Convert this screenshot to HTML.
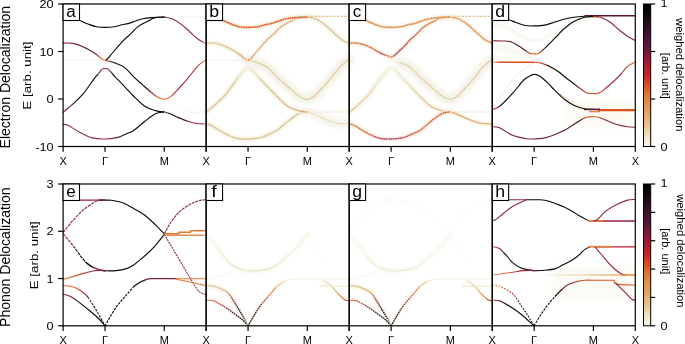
<!DOCTYPE html>
<html><head><meta charset="utf-8"><style>
html,body{margin:0;padding:0;background:#fff;width:685px;height:344px;overflow:hidden}
svg{display:block;will-change:transform}
text{font-family:"Liberation Sans", sans-serif;fill:#000}
</style></head><body>
<svg width="685" height="344" viewBox="0 0 685 344">
<path d="M63.10,17.50 C64.25,17.63 67.35,17.83 70.00,18.30 C72.65,18.77 76.00,19.35 79.00,20.30 C82.00,21.25 85.10,22.92 88.00,24.00 C90.90,25.08 93.57,26.23 96.40,26.80 C99.23,27.37 101.97,27.42 105.00,27.40 C108.03,27.38 111.77,27.13 114.60,26.70 C117.43,26.27 119.77,25.32 122.00,24.80 C124.23,24.28 125.73,24.23 128.00,23.60 C130.27,22.97 133.08,21.82 135.60,21.00 C138.12,20.18 140.33,19.27 143.10,18.70 C145.87,18.13 149.68,17.83 152.20,17.60 C154.72,17.37 156.20,17.38 158.20,17.30 C160.20,17.22 163.20,17.13 164.20,17.10" fill="none" stroke="#0a0a0a" stroke-width="1.12" stroke-linecap="round" stroke-linejoin="round"/>
<path d="M164.20,16.90 C165.62,17.25 169.85,17.75 172.70,19.00 C175.55,20.25 178.43,22.23 181.30,24.40 C184.17,26.57 187.03,29.48 189.90,32.00 C192.77,34.52 195.79,37.60 198.50,39.50 C201.21,41.40 204.88,42.75 206.15,43.40" fill="none" stroke="url(#g1)" stroke-width="1.12" stroke-linecap="round" stroke-linejoin="round"/>
<path d="M105.00,60.50 C105.38,60.25 106.13,60.17 107.30,59.00 C108.47,57.83 110.17,55.63 112.00,53.50 C113.83,51.37 116.30,48.48 118.30,46.20 C120.30,43.92 122.13,41.67 124.00,39.80 C125.87,37.93 128.00,36.38 129.50,35.00 C131.00,33.62 131.73,32.77 133.00,31.50 C134.27,30.23 135.42,28.72 137.10,27.40 C138.78,26.08 141.08,24.73 143.10,23.60 C145.12,22.47 147.55,21.48 149.20,20.60 C150.85,19.72 151.53,18.85 153.00,18.30 C154.47,17.75 156.13,17.50 158.00,17.30 C159.87,17.10 163.17,17.13 164.20,17.10" fill="none" stroke="#0a0a0a" stroke-width="1.12" stroke-linecap="round" stroke-linejoin="round"/>
<path d="M63.10,43.10 C64.72,43.15 69.40,42.75 72.80,43.40 C76.20,44.05 79.92,45.40 83.50,47.00 C87.08,48.60 91.25,51.03 94.30,53.00 C97.35,54.97 100.02,57.58 101.80,58.80 C103.58,60.02 103.03,59.68 105.00,60.30 C106.97,60.92 110.37,61.32 113.60,62.50 C116.83,63.68 121.00,64.95 124.40,67.40 C127.80,69.85 130.97,74.30 134.00,77.20 C137.03,80.10 139.73,82.28 142.60,84.80 C145.47,87.32 148.68,90.23 151.20,92.30 C153.72,94.37 155.53,96.05 157.70,97.20 C159.87,98.35 162.05,99.30 164.20,99.20 C166.35,99.10 168.10,98.47 170.60,96.60 C173.10,94.73 176.33,91.05 179.20,88.00 C182.07,84.95 185.67,80.80 187.80,78.30 C189.93,75.80 190.22,75.17 192.00,73.00 C193.78,70.83 196.14,67.55 198.50,65.30 C200.86,63.05 204.88,60.47 206.15,59.50" fill="none" stroke="url(#g2)" stroke-width="1.12" stroke-linecap="round" stroke-linejoin="round"/>
<path d="M63.10,112.30 C64.72,110.93 69.40,107.25 72.80,104.10 C76.20,100.95 79.90,97.70 83.50,93.40 C87.10,89.10 91.87,81.62 94.40,78.30 C96.93,74.98 97.55,74.90 98.70,73.50 C99.85,72.10 100.58,70.68 101.30,69.90 C102.02,69.12 102.38,69.02 103.00,68.80 C103.62,68.58 104.27,68.60 105.00,68.60 C105.73,68.60 106.42,68.27 107.40,68.80 C108.38,69.33 109.73,70.57 110.90,71.80 C112.07,73.03 113.38,75.03 114.40,76.20 C115.42,77.37 115.70,77.47 117.00,78.80 C118.30,80.13 119.53,81.42 122.20,84.20 C124.87,86.98 129.23,91.82 133.00,95.50 C136.77,99.18 141.05,103.78 144.80,106.30 C148.55,108.82 152.27,109.63 155.50,110.60 C158.73,111.57 162.75,111.85 164.20,112.10" fill="none" stroke="url(#g3)" stroke-width="1.12" stroke-linecap="round" stroke-linejoin="round"/>
<path d="M63.10,124.50 C63.82,124.58 64.72,123.75 67.40,125.00 C70.08,126.25 75.08,129.85 79.20,132.00 C83.32,134.15 87.80,136.73 92.10,137.90 C96.40,139.07 100.70,139.08 105.00,139.00 C109.30,138.92 114.40,138.23 117.90,137.40 C121.40,136.57 123.32,135.18 126.00,134.00 C128.68,132.82 130.87,132.42 134.00,130.30 C137.13,128.18 141.22,124.05 144.80,121.30 C148.38,118.55 152.27,115.38 155.50,113.80 C158.73,112.22 162.75,112.13 164.20,111.80" fill="none" stroke="url(#g4)" stroke-width="1.12" stroke-linecap="round" stroke-linejoin="round"/>
<path d="M164.20,112.00 C165.17,112.30 167.87,112.97 170.00,113.80 C172.13,114.63 174.03,115.75 177.00,117.00 C179.97,118.25 184.57,120.22 187.80,121.30 C191.03,122.38 193.34,123.07 196.40,123.50 C199.46,123.93 204.53,123.83 206.15,123.90" fill="none" stroke="url(#g5)" stroke-width="1.12" stroke-linecap="round" stroke-linejoin="round"/>
<line x1="63.10" y1="60.30" x2="105.00" y2="60.30" stroke="#ebe7d2" stroke-width="0.9" stroke-dasharray="1.5 1.2"/>
<line x1="164.20" y1="16.90" x2="206.15" y2="16.90" stroke="#ebe7d2" stroke-width="0.9" stroke-dasharray="1.5 1.2"/>
<line x1="164.20" y1="112.10" x2="206.15" y2="112.10" stroke="#ebe7d2" stroke-width="0.9" stroke-dasharray="1.5 1.2"/>
<path d="M63.10,200.10 C70.08,200.10 98.02,200.10 105.00,200.10" fill="none" stroke="#8e2646" stroke-width="1.12" stroke-linecap="round" stroke-linejoin="round"/>
<path d="M99.00,200.10 C100.00,200.10 102.92,200.08 105.00,200.10 C107.08,200.12 109.33,199.97 111.50,200.20 C113.67,200.43 115.85,200.97 118.00,201.50 C120.15,202.03 121.73,202.20 124.40,203.40 C127.07,204.60 130.60,206.73 134.00,208.70 C137.40,210.67 141.22,212.50 144.80,215.20 C148.38,217.90 152.27,221.78 155.50,224.90 C158.73,228.02 162.75,232.40 164.20,233.90" fill="none" stroke="#0a0a0a" stroke-width="1.12" stroke-linecap="round" stroke-linejoin="round"/>
<path d="M164.20,233.90 C165.27,232.03 168.10,226.35 170.60,222.70 C173.10,219.05 175.98,215.05 179.20,212.00 C182.42,208.95 186.68,206.27 189.90,204.40 C193.12,202.53 195.79,201.60 198.50,200.80 C201.21,200.00 204.88,199.80 206.15,199.60" fill="none" stroke="url(#g6)" stroke-width="1.12" stroke-linecap="butt" stroke-linejoin="round" stroke-dasharray="3 0.8"/>
<path d="M63.10,232.50 C64.72,230.52 69.40,224.38 72.80,220.60 C76.20,216.82 79.92,212.85 83.50,209.80 C87.08,206.75 91.62,203.88 94.30,202.30 C96.98,200.72 97.82,200.67 99.60,200.30 C101.38,199.93 104.10,200.13 105.00,200.10" fill="none" stroke="url(#g7)" stroke-width="1.12" stroke-linecap="butt" stroke-linejoin="round" stroke-dasharray="3.2 0.8"/>
<path d="M63.10,233.50 C64.72,235.47 70.48,242.38 72.80,245.30 C75.12,248.22 75.57,249.03 77.00,251.00 C78.43,252.97 79.90,255.18 81.40,257.10 C82.90,259.02 85.23,261.60 86.00,262.50" fill="none" stroke="url(#g8)" stroke-width="1.12" stroke-linecap="butt" stroke-linejoin="round" stroke-dasharray="3.2 0.8"/>
<path d="M86.00,262.50 C87.02,263.23 89.65,265.63 92.10,266.90 C94.55,268.17 98.55,269.45 100.70,270.10 C102.85,270.75 104.28,270.68 105.00,270.80" fill="none" stroke="url(#g9)" stroke-width="1.4" stroke-linecap="round" stroke-linejoin="round"/>
<path d="M105.00,270.80 C106.80,270.77 112.22,270.97 115.80,270.60 C119.38,270.23 123.47,269.57 126.50,268.60 C129.53,267.63 131.67,266.33 134.00,264.80 C136.33,263.27 138.35,261.20 140.50,259.40 C142.65,257.60 144.40,256.35 146.90,254.00 C149.40,251.65 152.62,248.55 155.50,245.30 C158.38,242.05 162.75,236.30 164.20,234.50" fill="none" stroke="#0a0a0a" stroke-width="1.12" stroke-linecap="round" stroke-linejoin="round"/>
<path d="M164.20,234.50 C164.55,235.05 164.88,235.47 166.30,237.80 C167.72,240.13 171.10,245.80 172.70,248.50 C174.30,251.20 174.10,250.93 175.90,254.00 C177.70,257.07 181.17,262.95 183.50,266.90 C185.83,270.85 187.75,274.12 189.90,277.70 C192.05,281.28 194.60,285.90 196.40,288.40 C198.20,290.90 199.07,291.70 200.70,292.70 C202.32,293.70 205.24,294.12 206.15,294.40" fill="none" stroke="url(#g10)" stroke-width="1.12" stroke-linecap="butt" stroke-linejoin="round" stroke-dasharray="2 0.9"/>
<line x1="164.20" y1="235.20" x2="206.15" y2="235.20" stroke="#e88c4c" stroke-width="1.4"/>
<polyline points="164.2,233.7 179,233.7 179,232.3 190.5,232.3 190.5,230.8 206.15,230.8" fill="none" stroke="#e07830" stroke-width="1.4"/>
<path d="M63.10,279.40 C64.72,278.93 69.40,277.60 72.80,276.60 C76.20,275.60 79.92,274.37 83.50,273.40 C87.08,272.43 91.25,271.35 94.30,270.80 C97.35,270.25 100.02,270.10 101.80,270.10 C103.58,270.10 104.47,270.68 105.00,270.80" fill="none" stroke="url(#g11)" stroke-width="1.12" stroke-linecap="round" stroke-linejoin="round"/>
<path d="M63.10,285.60 C64.35,285.72 68.28,285.83 70.60,286.30 C72.92,286.77 74.85,287.33 77.00,288.40 C79.15,289.47 81.70,291.27 83.50,292.70 C85.30,294.13 87.08,296.28 87.80,297.00" fill="none" stroke="url(#g12)" stroke-width="1.12" stroke-linecap="round" stroke-linejoin="round"/>
<path d="M87.80,297.00 C88.52,298.08 90.30,300.63 92.10,303.50 C93.90,306.37 96.45,310.48 98.60,314.20 C100.75,317.92 103.93,323.87 105.00,325.80" fill="none" stroke="url(#g13)" stroke-width="1.12" stroke-linecap="butt" stroke-linejoin="round" stroke-dasharray="2.5 1.1"/>
<path d="M63.10,294.20 C64.35,294.57 67.92,295.03 70.60,296.40 C73.28,297.77 75.97,299.97 79.20,302.40 C82.43,304.83 86.77,308.32 90.00,311.00 C93.23,313.68 96.10,316.03 98.60,318.50 C101.10,320.97 103.93,324.58 105.00,325.80" fill="none" stroke="url(#g14)" stroke-width="1.12" stroke-linecap="round" stroke-linejoin="round"/>
<path d="M105.00,325.80 C106.80,322.80 112.22,312.95 115.80,307.80 C119.38,302.65 123.47,298.48 126.50,294.90 C129.53,291.32 132.75,287.73 134.00,286.30" fill="none" stroke="#0a0a0a" stroke-width="1.12" stroke-linecap="butt" stroke-linejoin="round" stroke-dasharray="2.5 1.1"/>
<path d="M134.00,286.30 C135.08,285.58 138.35,283.15 140.50,282.00 C142.65,280.85 145.12,279.95 146.90,279.40 C148.68,278.85 148.32,278.82 151.20,278.70 C154.08,278.58 160.08,278.70 164.20,278.70 C168.32,278.70 173.95,278.70 175.90,278.70" fill="none" stroke="url(#g15)" stroke-width="1.25" stroke-linecap="round" stroke-linejoin="round"/>
<path d="M175.90,278.70 C180.94,278.70 201.11,278.70 206.15,278.70" fill="none" stroke="#e07830" stroke-width="1.12" stroke-linecap="round" stroke-linejoin="round"/>
<path d="M175.90,279.30 C178.23,279.75 184.86,280.95 189.90,282.00 C194.94,283.05 203.44,285.00 206.15,285.60" fill="none" stroke="#e07830" stroke-width="1.12" stroke-linecap="round" stroke-linejoin="round"/>
<path d="M492.25,24.00 C494.38,24.50 500.38,25.17 505.00,27.00 C509.62,28.83 515.17,32.67 520.00,35.00 C524.83,37.33 529.33,40.83 534.00,41.00 C538.67,41.17 542.83,38.33 548.00,36.00 C553.17,33.67 559.67,29.67 565.00,27.00 C570.33,24.33 575.33,21.67 580.00,20.00 C584.67,18.33 590.83,17.50 593.00,17.00" fill="none" stroke="#f6f5ec" stroke-width="3" stroke-linecap="round" stroke-linejoin="round" filter="url(#bl1)"/>
<path d="M492.25,46.00 C495.21,46.67 504.54,48.50 510.00,50.00 C515.46,51.50 521.00,53.83 525.00,55.00 C529.00,56.17 532.50,56.67 534.00,57.00" fill="none" stroke="#f7f6ee" stroke-width="6" stroke-linecap="round" stroke-linejoin="round" filter="url(#bl2)"/>
<path d="M534.00,63.00 C532.67,63.83 528.67,66.17 526.00,68.00 C523.33,69.83 521.00,71.00 518.00,74.00 C515.00,77.00 511.33,81.67 508.00,86.00 C504.67,90.33 500.33,96.67 498.00,100.00 C495.67,103.33 494.67,105.00 494.00,106.00" fill="none" stroke="#f5ead6" stroke-width="1.0" stroke-linecap="round" stroke-linejoin="round" filter="url(#bl05)"/>
<path d="M540.00,62.00 C541.33,62.67 545.33,64.50 548.00,66.00 C550.67,67.50 553.17,69.25 556.00,71.00 C558.83,72.75 563.50,75.58 565.00,76.50" fill="none" stroke="#f2d6b0" stroke-width="1.0" stroke-linecap="round" stroke-linejoin="round" filter="url(#bl05)"/>
<path d="M560.00,94.00 C561.67,95.08 566.67,98.67 570.00,100.50 C573.33,102.33 577.00,103.83 580.00,105.00 C583.00,106.17 586.67,107.08 588.00,107.50" fill="none" stroke="#eec090" stroke-width="1.0" stroke-linecap="round" stroke-linejoin="round" filter="url(#bl05)"/>
<rect x="565" y="102" width="68" height="26" fill="#fcfaf3" filter="url(#bl3)"/>
<line x1="600.00" y1="117.00" x2="635.30" y2="117.00" stroke="#f0e6cc" stroke-width="1.5" filter="url(#bl1)"/>
<line x1="492.25" y1="118.00" x2="534.00" y2="118.00" stroke="#f6f2e6" stroke-width="4" filter="url(#bl2)"/>
<path d="M492.25,17.50 C493.54,17.58 497.34,17.67 500.00,18.00 C502.66,18.33 505.53,18.75 508.20,19.50 C510.87,20.25 513.13,21.50 516.00,22.50 C518.87,23.50 522.40,24.93 525.40,25.50 C528.40,26.07 530.77,25.97 534.00,25.90 C537.23,25.83 541.30,25.75 544.80,25.10 C548.30,24.45 551.63,23.02 555.00,22.00 C558.37,20.98 561.87,19.78 565.00,19.00 C568.13,18.22 570.55,17.75 573.80,17.30 C577.05,16.85 581.23,16.52 584.50,16.30 C587.77,16.08 591.92,16.05 593.40,16.00" fill="none" stroke="#0a0a0a" stroke-width="1.12" stroke-linecap="round" stroke-linejoin="round"/>
<line x1="584.50" y1="15.80" x2="635.30" y2="15.80" stroke="#5e1632" stroke-width="1.5"/>
<path d="M593.40,16.20 C594.60,16.38 597.78,16.28 600.60,17.30 C603.42,18.32 607.25,20.22 610.30,22.30 C613.35,24.38 616.03,27.47 618.90,29.80 C621.77,32.13 624.77,34.50 627.50,36.30 C630.23,38.10 634.00,39.88 635.30,40.60" fill="none" stroke="url(#g16)" stroke-width="1.12" stroke-linecap="round" stroke-linejoin="round"/>
<path d="M586.00,16.60 C587.00,16.65 589.67,16.73 592.00,16.90 C594.33,17.07 598.67,17.48 600.00,17.60" fill="none" stroke="#e07a30" stroke-width="1.0" stroke-linecap="round" stroke-linejoin="round"/>
<path d="M492.25,40.60 C493.84,40.67 498.84,40.85 501.80,41.00 C504.76,41.15 507.18,40.68 510.00,41.50 C512.82,42.32 516.03,44.32 518.70,45.90 C521.37,47.48 524.07,49.72 526.00,51.00 C527.93,52.28 528.97,53.15 530.30,53.60 C531.63,54.05 532.67,53.70 534.00,53.70 C535.33,53.70 536.48,54.53 538.30,53.60 C540.12,52.67 542.58,50.23 544.90,48.10 C547.22,45.97 550.02,42.98 552.20,40.80 C554.38,38.62 556.20,36.83 558.00,35.00 C559.80,33.17 560.37,32.03 563.00,29.80 C565.63,27.57 570.22,23.68 573.80,21.60 C577.38,19.52 581.23,18.20 584.50,17.30 C587.77,16.40 591.92,16.38 593.40,16.20" fill="none" stroke="url(#g17)" stroke-width="1.12" stroke-linecap="round" stroke-linejoin="round"/>
<line x1="492.25" y1="62.20" x2="534.00" y2="62.20" stroke="#e04a20" stroke-width="1.4"/>
<path d="M534.00,62.20 C535.00,62.33 537.70,62.45 540.00,63.00 C542.30,63.55 544.80,64.12 547.80,65.50 C550.80,66.88 555.13,69.38 558.00,71.30 C560.87,73.22 562.37,74.93 565.00,77.00 C567.63,79.07 570.97,81.57 573.80,83.70 C576.63,85.83 579.80,88.25 582.00,89.80 C584.20,91.35 585.17,92.38 587.00,93.00 C588.83,93.62 591.08,93.45 593.00,93.50 C594.92,93.55 596.33,94.22 598.50,93.30 C600.67,92.38 603.32,90.13 606.00,88.00 C608.68,85.87 612.10,82.83 614.60,80.50 C617.10,78.17 618.85,76.35 621.00,74.00 C623.15,71.65 625.12,68.40 627.50,66.40 C629.88,64.40 634.00,62.73 635.30,62.00" fill="none" stroke="url(#g18)" stroke-width="1.12" stroke-linecap="round" stroke-linejoin="round"/>
<path d="M492.25,109.50 C493.48,108.97 496.23,108.98 499.60,106.30 C502.98,103.62 508.55,97.70 512.50,93.40 C516.45,89.10 520.57,83.33 523.30,80.50 C526.03,77.67 527.12,77.42 528.90,76.40 C530.68,75.38 532.32,74.52 534.00,74.40 C535.68,74.28 537.57,75.05 539.00,75.70 C540.43,76.35 540.90,76.85 542.60,78.30 C544.30,79.75 547.40,82.62 549.20,84.40 C551.00,86.18 550.77,86.43 553.40,89.00 C556.03,91.57 561.60,97.10 565.00,99.80 C568.40,102.50 570.55,103.70 573.80,105.20 C577.05,106.70 581.23,108.08 584.50,108.80 C587.77,109.52 591.92,109.38 593.40,109.50" fill="none" stroke="url(#g19)" stroke-width="1.15" stroke-linecap="round" stroke-linejoin="round"/>
<line x1="598.00" y1="110.20" x2="635.30" y2="110.20" stroke="#e05018" stroke-width="2.2"/>
<line x1="584.00" y1="109.40" x2="600.00" y2="109.40" stroke="#5a1430" stroke-width="1.6"/>
<line x1="589.00" y1="111.60" x2="600.00" y2="111.60" stroke="#e88040" stroke-width="1.3"/>
<path d="M492.25,126.70 C493.48,126.88 496.23,126.37 499.60,127.80 C502.98,129.23 508.20,133.52 512.50,135.30 C516.80,137.08 521.82,137.88 525.40,138.50 C528.98,139.12 530.42,139.18 534.00,139.00 C537.58,138.82 541.73,138.92 546.90,137.40 C552.07,135.88 560.52,132.05 565.00,129.90 C569.48,127.75 570.55,126.48 573.80,124.50 C577.05,122.52 581.63,119.32 584.50,118.00 C587.37,116.68 588.85,116.77 591.00,116.60 C593.15,116.43 594.90,116.40 597.40,117.00 C599.90,117.60 602.77,118.95 606.00,120.20 C609.23,121.45 613.22,123.42 616.80,124.50 C620.38,125.58 624.42,126.23 627.50,126.70 C630.58,127.17 634.00,127.20 635.30,127.30" fill="none" stroke="url(#g20)" stroke-width="1.12" stroke-linecap="round" stroke-linejoin="round"/>
<rect x="552" y="265" width="80" height="34" fill="#fcfaf4" filter="url(#bl3)"/>
<path d="M545.00,274.60 C547.50,274.63 553.33,274.73 560.00,274.80 C566.67,274.87 578.33,274.97 585.00,275.00 C591.67,275.03 591.62,275.00 600.00,275.00 C608.38,275.00 629.42,275.00 635.30,275.00" fill="none" stroke="url(#g21)" stroke-width="1.6" stroke-linecap="round" stroke-linejoin="round" filter="url(#bl05)"/>
<path d="M492.25,279.80 C496.88,279.80 515.38,279.80 520.00,279.80" fill="none" stroke="#f6f0e2" stroke-width="1.5" stroke-linecap="round" stroke-linejoin="round" filter="url(#bl05)"/>
<line x1="492.25" y1="199.70" x2="526.50" y2="199.70" stroke="#8e2646" stroke-width="1.1"/>
<path d="M526.50,199.70 C527.75,199.70 531.75,199.68 534.00,199.70 C536.25,199.72 538.17,199.70 540.00,199.80 C541.83,199.90 543.50,200.07 545.00,200.30 C546.50,200.53 547.60,200.78 549.00,201.20 C550.40,201.62 551.90,202.23 553.40,202.80 C554.90,203.37 556.40,203.97 558.00,204.60 C559.60,205.23 560.73,205.55 563.00,206.60 C565.27,207.65 568.73,209.28 571.60,210.90 C574.47,212.52 577.33,214.68 580.20,216.30 C583.07,217.92 586.60,219.82 588.80,220.60 C591.00,221.38 592.63,220.93 593.40,221.00" fill="none" stroke="url(#g22)" stroke-width="1.12" stroke-linecap="round" stroke-linejoin="round"/>
<line x1="593.40" y1="221.00" x2="635.30" y2="221.00" stroke="#9a1e40" stroke-width="1.3"/>
<line x1="588.00" y1="221.00" x2="603.00" y2="221.00" stroke="#e48038" stroke-width="1.5"/>
<path d="M593.40,221.00 C594.07,220.75 595.30,221.18 597.40,219.50 C599.50,217.82 602.77,213.42 606.00,210.90 C609.23,208.38 613.22,206.20 616.80,204.40 C620.38,202.60 624.42,200.92 627.50,200.10 C630.58,199.28 634.00,199.60 635.30,199.50" fill="none" stroke="#8e2646" stroke-width="1.12" stroke-linecap="round" stroke-linejoin="round"/>
<path d="M492.25,220.80 C492.71,220.67 494.12,220.40 495.00,220.00 C495.88,219.60 496.02,219.57 497.50,218.40 C498.98,217.23 501.40,214.97 503.90,213.00 C506.40,211.03 509.63,208.38 512.50,206.60 C515.37,204.82 518.77,203.43 521.10,202.30 C523.43,201.17 525.60,200.22 526.50,199.80" fill="none" stroke="#8e2646" stroke-width="1.12" stroke-linecap="round" stroke-linejoin="round"/>
<path d="M492.25,246.40 C493.48,246.75 497.64,247.40 499.60,248.50 C501.56,249.60 502.57,251.50 504.00,253.00 C505.43,254.50 506.78,255.90 508.20,257.50 C509.62,259.10 510.35,260.85 512.50,262.60 C514.65,264.35 518.05,266.75 521.10,268.00 C524.15,269.25 528.65,269.63 530.80,270.10 C532.95,270.57 533.47,270.68 534.00,270.80" fill="none" stroke="url(#g23)" stroke-width="1.12" stroke-linecap="round" stroke-linejoin="round"/>
<path d="M534.00,270.80 C535.80,270.72 541.22,270.67 544.80,270.30 C548.38,269.93 552.47,269.52 555.50,268.60 C558.53,267.68 560.32,266.15 563.00,264.80 C565.68,263.45 568.73,262.30 571.60,260.50 C574.47,258.70 578.05,255.82 580.20,254.00 C582.35,252.18 582.70,250.80 584.50,249.60 C586.30,248.40 589.38,247.27 591.00,246.80 C592.62,246.33 593.67,246.80 594.20,246.80" fill="none" stroke="url(#g24)" stroke-width="1.12" stroke-linecap="round" stroke-linejoin="round"/>
<line x1="594.20" y1="246.80" x2="635.30" y2="246.80" stroke="#c01e30" stroke-width="1.3"/>
<line x1="588.00" y1="246.60" x2="612.00" y2="246.60" stroke="#e48038" stroke-width="1.5"/>
<path d="M595.30,247.40 C596.18,248.42 598.45,250.97 600.60,253.50 C602.75,256.03 605.87,260.02 608.20,262.60 C610.53,265.18 612.45,267.13 614.60,269.00 C616.75,270.87 619.37,272.82 621.10,273.80 C622.83,274.78 624.35,274.72 625.00,274.90" fill="none" stroke="#8e2646" stroke-width="1.12" stroke-linecap="round" stroke-linejoin="round"/>
<line x1="621.00" y1="274.90" x2="635.30" y2="274.90" stroke="#e89040" stroke-width="1.2"/>
<path d="M492.25,275.00 C493.84,274.80 498.43,274.25 501.80,273.80 C505.18,273.35 508.92,272.83 512.50,272.30 C516.08,271.77 520.25,270.97 523.30,270.60 C526.35,270.23 529.02,270.07 530.80,270.10 C532.58,270.13 533.47,270.68 534.00,270.80" fill="none" stroke="url(#g25)" stroke-width="1.12" stroke-linecap="round" stroke-linejoin="round"/>
<path d="M492.25,285.20 C493.48,285.38 496.94,285.40 499.60,286.30 C502.26,287.20 505.68,289.00 508.20,290.60 C510.72,292.20 512.55,293.40 514.70,295.90 C516.85,298.40 518.95,302.37 521.10,305.60 C523.25,308.83 525.45,311.93 527.60,315.30 C529.75,318.67 532.93,324.05 534.00,325.80" fill="none" stroke="url(#g26)" stroke-width="1.12" stroke-linecap="butt" stroke-linejoin="round" stroke-dasharray="1.8 1.3"/>
<path d="M492.25,300.20 C493.48,300.32 496.58,299.82 499.60,300.90 C502.62,301.98 506.82,304.48 510.40,306.70 C513.98,308.92 517.17,311.02 521.10,314.20 C525.03,317.38 531.85,323.87 534.00,325.80" fill="none" stroke="url(#g27)" stroke-width="1.12" stroke-linecap="round" stroke-linejoin="round"/>
<path d="M534.00,325.80 C535.80,322.97 541.22,313.78 544.80,308.80 C548.38,303.82 552.47,299.30 555.50,295.90 C558.53,292.50 561.75,289.65 563.00,288.40" fill="none" stroke="#0a0a0a" stroke-width="1.12" stroke-linecap="butt" stroke-linejoin="round" stroke-dasharray="2.5 1.1"/>
<path d="M555.50,295.90 C556.75,294.65 560.67,290.37 563.00,288.40 C565.33,286.43 567.00,285.28 569.50,284.10 C572.00,282.92 575.50,281.95 578.00,281.30 C580.50,280.65 581.93,280.38 584.50,280.20 C587.07,280.02 588.48,280.20 593.40,280.20 C598.32,280.20 610.57,280.20 614.00,280.20" fill="none" stroke="url(#g28)" stroke-width="1.12" stroke-linecap="round" stroke-linejoin="round"/>
<path d="M614.00,280.40 C614.47,281.02 613.25,283.30 616.80,284.10 C620.35,284.90 632.22,285.02 635.30,285.20" fill="none" stroke="#e06020" stroke-width="1.12" stroke-linecap="round" stroke-linejoin="round"/>
<path d="M615.70,283.00 C617.32,284.62 622.72,290.00 625.40,292.70 C628.08,295.40 630.15,297.95 631.80,299.20 C633.45,300.45 634.72,300.03 635.30,300.20" fill="none" stroke="#8e2646" stroke-width="1.12" stroke-linecap="round" stroke-linejoin="round"/>
<path d="M248.05,60.30 C249.48,60.67 253.42,61.32 256.65,62.50 C259.88,63.68 264.05,64.95 267.45,67.40 C270.85,69.85 274.02,74.30 277.05,77.20 C280.08,80.10 282.78,82.28 285.65,84.80 C288.52,87.32 291.73,90.23 294.25,92.30 C296.77,94.37 298.58,96.05 300.75,97.20 C302.92,98.35 305.10,99.30 307.25,99.20 C309.40,99.10 311.15,98.47 313.65,96.60 C316.15,94.73 319.38,91.05 322.25,88.00 C325.12,84.95 328.72,80.80 330.85,78.30 C332.98,75.80 333.27,75.17 335.05,73.00 C336.83,70.83 339.19,67.55 341.55,65.30 C343.91,63.05 347.93,60.47 349.20,59.50" fill="none" stroke="#f3f2e7" stroke-width="10" stroke-linecap="round" stroke-linejoin="round" filter="url(#bl2)"/>
<path d="M248.05,60.30 C249.48,60.67 253.42,61.32 256.65,62.50 C259.88,63.68 264.05,64.95 267.45,67.40 C270.85,69.85 274.02,74.30 277.05,77.20 C280.08,80.10 282.78,82.28 285.65,84.80 C288.52,87.32 291.73,90.23 294.25,92.30 C296.77,94.37 298.58,96.05 300.75,97.20 C302.92,98.35 305.10,99.30 307.25,99.20 C309.40,99.10 311.15,98.47 313.65,96.60 C316.15,94.73 319.38,91.05 322.25,88.00 C325.12,84.95 328.72,80.80 330.85,78.30 C332.98,75.80 333.27,75.17 335.05,73.00 C336.83,70.83 339.19,67.55 341.55,65.30 C343.91,63.05 347.93,60.47 349.20,59.50" fill="none" stroke="#dcc690" stroke-width="1.4" stroke-linecap="butt" stroke-linejoin="round" stroke-dasharray="1.3 0.4" filter="url(#bl05)"/>
<path d="M307.25,112.00 C308.22,112.30 310.92,112.97 313.05,113.80 C315.18,114.63 317.08,115.75 320.05,117.00 C323.02,118.25 327.62,120.22 330.85,121.30 C334.08,122.38 336.39,123.07 339.45,123.50 C342.51,123.93 347.58,123.83 349.20,123.90" fill="none" stroke="#f4f3ea" stroke-width="9" stroke-linecap="round" stroke-linejoin="round" filter="url(#bl2)"/>
<path d="M307.25,112.00 C308.22,112.30 310.92,112.97 313.05,113.80 C315.18,114.63 317.08,115.75 320.05,117.00 C323.02,118.25 327.62,120.22 330.85,121.30 C334.08,122.38 336.39,123.07 339.45,123.50 C342.51,123.93 347.58,123.83 349.20,123.90" fill="none" stroke="#e6dab4" stroke-width="1.3" stroke-linecap="butt" stroke-linejoin="round" stroke-dasharray="1.3 0.5" filter="url(#bl05)"/>
<path d="M206.15,124.50 C206.87,124.58 207.77,123.75 210.45,125.00 C213.13,126.25 218.13,129.85 222.25,132.00 C226.37,134.15 230.85,136.73 235.15,137.90 C239.45,139.07 243.75,139.08 248.05,139.00 C252.35,138.92 257.45,138.23 260.95,137.40 C264.45,136.57 266.37,135.18 269.05,134.00 C271.73,132.82 273.92,132.42 277.05,130.30 C280.18,128.18 284.27,124.05 287.85,121.30 C291.43,118.55 295.32,115.38 298.55,113.80 C301.78,112.22 305.80,112.13 307.25,111.80" fill="none" stroke="#f1f0e2" stroke-width="5" stroke-linecap="round" stroke-linejoin="round" stroke-opacity="0.8" filter="url(#bl1)"/>
<path d="M206.15,124.50 C206.87,124.58 207.77,123.75 210.45,125.00 C213.13,126.25 218.13,129.85 222.25,132.00 C226.37,134.15 230.85,136.73 235.15,137.90 C239.45,139.07 243.75,139.08 248.05,139.00 C252.35,138.92 257.45,138.23 260.95,137.40 C264.45,136.57 266.37,135.18 269.05,134.00 C271.73,132.82 273.92,132.42 277.05,130.30 C280.18,128.18 284.27,124.05 287.85,121.30 C291.43,118.55 295.32,115.38 298.55,113.80 C301.78,112.22 305.80,112.13 307.25,111.80" fill="none" stroke="#d8b878" stroke-width="1.4" stroke-linecap="butt" stroke-linejoin="round" stroke-dasharray="1.3 0.4" filter="url(#bl05)"/>
<path d="M206.15,112.30 C207.77,110.93 212.45,107.25 215.85,104.10 C219.25,100.95 222.95,97.70 226.55,93.40 C230.15,89.10 234.92,81.62 237.45,78.30 C239.98,74.98 240.60,74.90 241.75,73.50 C242.90,72.10 243.63,70.68 244.35,69.90 C245.07,69.12 245.43,69.02 246.05,68.80 C246.67,68.58 247.32,68.60 248.05,68.60 C248.78,68.60 249.47,68.27 250.45,68.80 C251.43,69.33 252.78,70.57 253.95,71.80 C255.12,73.03 256.43,75.03 257.45,76.20 C258.47,77.37 258.75,77.47 260.05,78.80 C261.35,80.13 262.58,81.42 265.25,84.20 C267.92,86.98 272.28,91.82 276.05,95.50 C279.82,99.18 284.10,103.78 287.85,106.30 C291.60,108.82 295.32,109.63 298.55,110.60 C301.78,111.57 305.80,111.85 307.25,112.10" fill="none" stroke="#f1f0e2" stroke-width="5" stroke-linecap="round" stroke-linejoin="round" stroke-opacity="0.8" filter="url(#bl1)"/>
<path d="M206.15,112.30 C207.77,110.93 212.45,107.25 215.85,104.10 C219.25,100.95 222.95,97.70 226.55,93.40 C230.15,89.10 234.92,81.62 237.45,78.30 C239.98,74.98 240.60,74.90 241.75,73.50 C242.90,72.10 243.63,70.68 244.35,69.90 C245.07,69.12 245.43,69.02 246.05,68.80 C246.67,68.58 247.32,68.60 248.05,68.60 C248.78,68.60 249.47,68.27 250.45,68.80 C251.43,69.33 252.78,70.57 253.95,71.80 C255.12,73.03 256.43,75.03 257.45,76.20 C258.47,77.37 258.75,77.47 260.05,78.80 C261.35,80.13 262.58,81.42 265.25,84.20 C267.92,86.98 272.28,91.82 276.05,95.50 C279.82,99.18 284.10,103.78 287.85,106.30 C291.60,108.82 295.32,109.63 298.55,110.60 C301.78,111.57 305.80,111.85 307.25,112.10" fill="none" stroke="url(#g29)" stroke-width="1.4" stroke-linecap="butt" stroke-linejoin="round" stroke-dasharray="1.3 0.4" filter="url(#bl05)"/>
<path d="M206.15,43.10 C207.77,43.15 212.45,42.75 215.85,43.40 C219.25,44.05 222.97,45.40 226.55,47.00 C230.13,48.60 234.30,51.03 237.35,53.00 C240.40,54.97 243.07,57.58 244.85,58.80 C246.63,60.02 247.52,60.05 248.05,60.30" fill="none" stroke="#f1f0e2" stroke-width="5" stroke-linecap="round" stroke-linejoin="round" stroke-opacity="0.8" filter="url(#bl1)"/>
<path d="M206.15,43.10 C207.77,43.15 212.45,42.75 215.85,43.40 C219.25,44.05 222.97,45.40 226.55,47.00 C230.13,48.60 234.30,51.03 237.35,53.00 C240.40,54.97 243.07,57.58 244.85,58.80 C246.63,60.02 247.52,60.05 248.05,60.30" fill="none" stroke="url(#g30)" stroke-width="1.4" stroke-linecap="butt" stroke-linejoin="round" stroke-dasharray="1.3 0.4" filter="url(#bl05)"/>
<path d="M248.05,60.50 C248.43,60.25 249.18,60.17 250.35,59.00 C251.52,57.83 253.22,55.63 255.05,53.50 C256.88,51.37 259.35,48.48 261.35,46.20 C263.35,43.92 265.18,41.67 267.05,39.80 C268.92,37.93 271.05,36.38 272.55,35.00 C274.05,33.62 274.78,32.77 276.05,31.50 C277.32,30.23 278.47,28.72 280.15,27.40 C281.83,26.08 284.13,24.73 286.15,23.60 C288.17,22.47 290.60,21.48 292.25,20.60 C293.90,19.72 294.58,18.85 296.05,18.30 C297.52,17.75 299.18,17.50 301.05,17.30 C302.92,17.10 306.22,17.13 307.25,17.10" fill="none" stroke="#f1f0e2" stroke-width="4" stroke-linecap="round" stroke-linejoin="round" stroke-opacity="0.8" filter="url(#bl1)"/>
<path d="M248.05,60.50 C248.43,60.25 249.18,60.17 250.35,59.00 C251.52,57.83 253.22,55.63 255.05,53.50 C256.88,51.37 259.35,48.48 261.35,46.20 C263.35,43.92 265.18,41.67 267.05,39.80 C268.92,37.93 271.05,36.38 272.55,35.00 C274.05,33.62 274.78,32.77 276.05,31.50 C277.32,30.23 278.47,28.72 280.15,27.40 C281.83,26.08 284.13,24.73 286.15,23.60 C288.17,22.47 290.60,21.48 292.25,20.60 C293.90,19.72 294.58,18.85 296.05,18.30 C297.52,17.75 299.18,17.50 301.05,17.30 C302.92,17.10 306.22,17.13 307.25,17.10" fill="none" stroke="url(#g31)" stroke-width="1.4" stroke-linecap="butt" stroke-linejoin="round" stroke-dasharray="1.3 0.4" filter="url(#bl05)"/>
<path d="M307.25,16.90 C308.67,17.25 312.90,17.75 315.75,19.00 C318.60,20.25 321.48,22.23 324.35,24.40 C327.22,26.57 330.08,29.48 332.95,32.00 C335.82,34.52 338.84,37.60 341.55,39.50 C344.26,41.40 347.93,42.75 349.20,43.40" fill="none" stroke="#f1f0e2" stroke-width="5" stroke-linecap="round" stroke-linejoin="round" stroke-opacity="0.8" filter="url(#bl1)"/>
<path d="M307.25,16.90 C308.67,17.25 312.90,17.75 315.75,19.00 C318.60,20.25 321.48,22.23 324.35,24.40 C327.22,26.57 330.08,29.48 332.95,32.00 C335.82,34.52 338.84,37.60 341.55,39.50 C344.26,41.40 347.93,42.75 349.20,43.40" fill="none" stroke="#d8b47c" stroke-width="1.4" stroke-linecap="butt" stroke-linejoin="round" stroke-dasharray="1.3 0.4" filter="url(#bl05)"/>
<line x1="307.25" y1="16.20" x2="349.20" y2="16.20" stroke="#e0b070" stroke-width="1.1" stroke-dasharray="2.5 1.2"/>
<line x1="206.15" y1="60.30" x2="248.05" y2="60.30" stroke="#ebe6cc" stroke-width="1.1" stroke-dasharray="1.5 1.2"/>
<line x1="307.25" y1="112.10" x2="349.20" y2="112.10" stroke="#ebe6cc" stroke-width="1.1" stroke-dasharray="1.5 1.2"/>
<path d="M206.15,17.50 C207.30,17.63 210.40,17.83 213.05,18.30 C215.70,18.77 219.05,19.35 222.05,20.30 C225.05,21.25 228.15,22.92 231.05,24.00 C233.95,25.08 236.62,26.23 239.45,26.80 C242.28,27.37 245.02,27.42 248.05,27.40 C251.08,27.38 254.82,27.13 257.65,26.70 C260.48,26.27 262.82,25.32 265.05,24.80 C267.28,24.28 268.78,24.23 271.05,23.60 C273.32,22.97 276.13,21.82 278.65,21.00 C281.17,20.18 283.38,19.27 286.15,18.70 C288.92,18.13 292.73,17.83 295.25,17.60 C297.77,17.37 299.25,17.38 301.25,17.30 C303.25,17.22 306.25,17.13 307.25,17.10" fill="none" stroke="#f2e2c8" stroke-width="3.5" stroke-linecap="round" stroke-linejoin="round" stroke-opacity="0.8" filter="url(#bl1)"/>
<path d="M206.15,17.50 C207.30,17.63 210.40,17.83 213.05,18.30 C215.70,18.77 219.05,19.35 222.05,20.30 C225.05,21.25 228.15,22.92 231.05,24.00 C233.95,25.08 236.62,26.23 239.45,26.80 C242.28,27.37 245.02,27.42 248.05,27.40 C251.08,27.38 254.82,27.13 257.65,26.70 C260.48,26.27 262.82,25.32 265.05,24.80 C267.28,24.28 268.78,24.23 271.05,23.60 C273.32,22.97 276.13,21.82 278.65,21.00 C281.17,20.18 283.38,19.27 286.15,18.70 C288.92,18.13 292.73,17.83 295.25,17.60 C297.77,17.37 299.25,17.38 301.25,17.30 C303.25,17.22 306.25,17.13 307.25,17.10" fill="none" stroke="#e05424" stroke-width="1.6" stroke-linecap="butt" stroke-linejoin="round" stroke-dasharray="1.4 0.4" filter="url(#bl05)"/>
<line x1="299.05" y1="111.70" x2="313.05" y2="111.70" stroke="#e06a30" stroke-width="1.1" filter="url(#bl05)"/>
<path d="M399.70,62.50 C401.50,63.32 407.10,64.95 410.50,67.40 C413.90,69.85 417.07,74.30 420.10,77.20 C423.13,80.10 425.83,82.28 428.70,84.80 C431.57,87.32 434.78,90.23 437.30,92.30 C439.82,94.37 441.63,96.05 443.80,97.20 C445.97,98.35 448.15,99.30 450.30,99.20 C452.45,99.10 454.20,98.47 456.70,96.60 C459.20,94.73 462.43,91.05 465.30,88.00 C468.17,84.95 471.77,80.80 473.90,78.30 C476.03,75.80 476.32,75.17 478.10,73.00 C479.88,70.83 482.24,67.55 484.60,65.30 C486.96,63.05 490.98,60.47 492.25,59.50" fill="none" stroke="#f3f2e7" stroke-width="10" stroke-linecap="round" stroke-linejoin="round" filter="url(#bl2)"/>
<path d="M399.70,62.50 C401.50,63.32 407.10,64.95 410.50,67.40 C413.90,69.85 417.07,74.30 420.10,77.20 C423.13,80.10 425.83,82.28 428.70,84.80 C431.57,87.32 434.78,90.23 437.30,92.30 C439.82,94.37 441.63,96.05 443.80,97.20 C445.97,98.35 448.15,99.30 450.30,99.20 C452.45,99.10 454.20,98.47 456.70,96.60 C459.20,94.73 462.43,91.05 465.30,88.00 C468.17,84.95 471.77,80.80 473.90,78.30 C476.03,75.80 476.32,75.17 478.10,73.00 C479.88,70.83 482.24,67.55 484.60,65.30 C486.96,63.05 490.98,60.47 492.25,59.50" fill="none" stroke="#dcc690" stroke-width="1.3" stroke-linecap="butt" stroke-linejoin="round" stroke-dasharray="1.3 0.5" filter="url(#bl05)"/>
<path d="M386.10,60.50 C386.93,60.55 388.83,60.47 391.10,60.80 C393.37,61.13 398.27,62.22 399.70,62.50" fill="none" stroke="#efe6cc" stroke-width="1.0" stroke-linecap="round" stroke-linejoin="round" filter="url(#bl1)"/>
<line x1="450.30" y1="112.10" x2="492.25" y2="112.10" stroke="#ece6cc" stroke-width="1.1" stroke-dasharray="1.5 1.2"/>
<line x1="349.20" y1="60.30" x2="386.10" y2="60.30" stroke="#f3f0e2" stroke-width="3" filter="url(#bl1)"/>
<line x1="450.30" y1="16.20" x2="492.25" y2="16.20" stroke="#e0b070" stroke-width="1.1" stroke-dasharray="2.5 1.2"/>
<path d="M349.20,112.30 C350.82,110.93 355.50,107.25 358.90,104.10 C362.30,100.95 366.00,97.70 369.60,93.40 C373.20,89.10 377.97,81.62 380.50,78.30 C383.03,74.98 383.65,74.90 384.80,73.50 C385.95,72.10 386.68,70.68 387.40,69.90 C388.12,69.12 388.48,69.02 389.10,68.80 C389.72,68.58 390.37,68.60 391.10,68.60 C391.83,68.60 392.52,68.27 393.50,68.80 C394.48,69.33 395.83,70.57 397.00,71.80 C398.17,73.03 399.48,75.03 400.50,76.20 C401.52,77.37 401.80,77.47 403.10,78.80 C404.40,80.13 405.63,81.42 408.30,84.20 C410.97,86.98 415.33,91.82 419.10,95.50 C422.87,99.18 427.15,103.78 430.90,106.30 C434.65,108.82 438.37,109.63 441.60,110.60 C444.83,111.57 448.85,111.85 450.30,112.10" fill="none" stroke="#f3f1e4" stroke-width="5" stroke-linecap="round" stroke-linejoin="round" stroke-opacity="0.8" filter="url(#bl1)"/>
<path d="M349.20,112.30 C350.82,110.93 355.50,107.25 358.90,104.10 C362.30,100.95 366.00,97.70 369.60,93.40 C373.20,89.10 377.97,81.62 380.50,78.30 C383.03,74.98 383.65,74.90 384.80,73.50 C385.95,72.10 386.68,70.68 387.40,69.90 C388.12,69.12 388.48,69.02 389.10,68.80 C389.72,68.58 390.37,68.60 391.10,68.60 C391.83,68.60 392.52,68.27 393.50,68.80 C394.48,69.33 395.83,70.57 397.00,71.80 C398.17,73.03 399.48,75.03 400.50,76.20 C401.52,77.37 401.80,77.47 403.10,78.80 C404.40,80.13 405.63,81.42 408.30,84.20 C410.97,86.98 415.33,91.82 419.10,95.50 C422.87,99.18 427.15,103.78 430.90,106.30 C434.65,108.82 438.37,109.63 441.60,110.60 C444.83,111.57 448.85,111.85 450.30,112.10" fill="none" stroke="url(#g32)" stroke-width="1.3" stroke-linecap="butt" stroke-linejoin="round" stroke-dasharray="1.3 0.5" filter="url(#bl05)"/>
<path d="M450.30,112.00 C451.27,112.30 453.97,112.97 456.10,113.80 C458.23,114.63 460.13,115.75 463.10,117.00 C466.07,118.25 470.67,120.22 473.90,121.30 C477.13,122.38 479.44,123.07 482.50,123.50 C485.56,123.93 490.62,123.83 492.25,123.90" fill="none" stroke="#f3f1e4" stroke-width="4" stroke-linecap="round" stroke-linejoin="round" stroke-opacity="0.8" filter="url(#bl1)"/>
<path d="M450.30,112.00 C451.27,112.30 453.97,112.97 456.10,113.80 C458.23,114.63 460.13,115.75 463.10,117.00 C466.07,118.25 470.67,120.22 473.90,121.30 C477.13,122.38 479.44,123.07 482.50,123.50 C485.56,123.93 490.62,123.83 492.25,123.90" fill="none" stroke="url(#g33)" stroke-width="1.4" stroke-linecap="butt" stroke-linejoin="round" stroke-dasharray="1.3 0.5" filter="url(#bl05)"/>
<path d="M349.20,124.50 C349.92,124.58 350.82,123.75 353.50,125.00 C356.18,126.25 361.18,129.85 365.30,132.00 C369.42,134.15 373.90,136.73 378.20,137.90 C382.50,139.07 386.80,139.08 391.10,139.00 C395.40,138.92 400.50,138.23 404.00,137.40 C407.50,136.57 409.42,135.18 412.10,134.00 C414.78,132.82 416.97,132.42 420.10,130.30 C423.23,128.18 427.32,124.05 430.90,121.30 C434.48,118.55 438.37,115.38 441.60,113.80 C444.83,112.22 448.85,112.13 450.30,111.80" fill="none" stroke="#f4e8d8" stroke-width="4" stroke-linecap="round" stroke-linejoin="round" stroke-opacity="0.8" filter="url(#bl1)"/>
<path d="M349.20,124.50 C349.92,124.58 350.82,123.75 353.50,125.00 C356.18,126.25 361.18,129.85 365.30,132.00 C369.42,134.15 373.90,136.73 378.20,137.90 C382.50,139.07 386.80,139.08 391.10,139.00 C395.40,138.92 400.50,138.23 404.00,137.40 C407.50,136.57 409.42,135.18 412.10,134.00 C414.78,132.82 416.97,132.42 420.10,130.30 C423.23,128.18 427.32,124.05 430.90,121.30 C434.48,118.55 438.37,115.38 441.60,113.80 C444.83,112.22 448.85,112.13 450.30,111.80" fill="none" stroke="url(#g34)" stroke-width="1.5" stroke-linecap="butt" stroke-linejoin="round" stroke-dasharray="1.4 0.4" filter="url(#bl05)"/>
<path d="M450.30,16.90 C451.72,17.25 455.95,17.75 458.80,19.00 C461.65,20.25 464.53,22.23 467.40,24.40 C470.27,26.57 473.13,29.48 476.00,32.00 C478.87,34.52 481.89,37.60 484.60,39.50 C487.31,41.40 490.98,42.75 492.25,43.40" fill="none" stroke="#f4e8d8" stroke-width="4" stroke-linecap="round" stroke-linejoin="round" stroke-opacity="0.8" filter="url(#bl1)"/>
<path d="M450.30,16.90 C451.72,17.25 455.95,17.75 458.80,19.00 C461.65,20.25 464.53,22.23 467.40,24.40 C470.27,26.57 473.13,29.48 476.00,32.00 C478.87,34.52 481.89,37.60 484.60,39.50 C487.31,41.40 490.98,42.75 492.25,43.40" fill="none" stroke="#e08e40" stroke-width="1.5" stroke-linecap="butt" stroke-linejoin="round" stroke-dasharray="1.4 0.4" filter="url(#bl05)"/>
<path d="M349.20,43.10 C350.82,43.15 355.50,42.75 358.90,43.40 C362.30,44.05 366.02,45.40 369.60,47.00 C373.18,48.60 377.35,51.50 380.40,53.00 C383.45,54.50 386.12,55.28 387.90,56.00 C389.68,56.72 390.57,57.08 391.10,57.30" fill="none" stroke="#f4e8d8" stroke-width="4" stroke-linecap="round" stroke-linejoin="round" stroke-opacity="0.8" filter="url(#bl1)"/>
<path d="M349.20,43.10 C350.82,43.15 355.50,42.75 358.90,43.40 C362.30,44.05 366.02,45.40 369.60,47.00 C373.18,48.60 377.35,51.50 380.40,53.00 C383.45,54.50 386.12,55.28 387.90,56.00 C389.68,56.72 390.57,57.08 391.10,57.30" fill="none" stroke="url(#g35)" stroke-width="1.5" stroke-linecap="butt" stroke-linejoin="round" stroke-dasharray="1.4 0.4" filter="url(#bl05)"/>
<path d="M391.10,57.30 C391.68,56.97 393.43,56.18 394.60,55.30 C395.77,54.42 396.47,53.52 398.10,52.00 C399.73,50.48 402.40,48.23 404.40,46.20 C406.40,44.17 408.23,41.67 410.10,39.80 C411.97,37.93 414.10,36.38 415.60,35.00 C417.10,33.62 417.83,32.77 419.10,31.50 C420.37,30.23 421.52,28.72 423.20,27.40 C424.88,26.08 427.18,24.73 429.20,23.60 C431.22,22.47 433.65,21.48 435.30,20.60 C436.95,19.72 437.63,18.85 439.10,18.30 C440.57,17.75 442.23,17.50 444.10,17.30 C445.97,17.10 449.27,17.13 450.30,17.10" fill="none" stroke="#f4e8d8" stroke-width="4" stroke-linecap="round" stroke-linejoin="round" stroke-opacity="0.8" filter="url(#bl1)"/>
<path d="M391.10,57.30 C391.68,56.97 393.43,56.18 394.60,55.30 C395.77,54.42 396.47,53.52 398.10,52.00 C399.73,50.48 402.40,48.23 404.40,46.20 C406.40,44.17 408.23,41.67 410.10,39.80 C411.97,37.93 414.10,36.38 415.60,35.00 C417.10,33.62 417.83,32.77 419.10,31.50 C420.37,30.23 421.52,28.72 423.20,27.40 C424.88,26.08 427.18,24.73 429.20,23.60 C431.22,22.47 433.65,21.48 435.30,20.60 C436.95,19.72 437.63,18.85 439.10,18.30 C440.57,17.75 442.23,17.50 444.10,17.30 C445.97,17.10 449.27,17.13 450.30,17.10" fill="none" stroke="url(#g36)" stroke-width="1.5" stroke-linecap="butt" stroke-linejoin="round" stroke-dasharray="1.4 0.4" filter="url(#bl05)"/>
<path d="M349.20,17.50 C350.35,17.63 353.45,17.83 356.10,18.30 C358.75,18.77 362.10,19.35 365.10,20.30 C368.10,21.25 371.20,22.92 374.10,24.00 C377.00,25.08 379.67,26.23 382.50,26.80 C385.33,27.37 388.07,27.42 391.10,27.40 C394.13,27.38 397.87,27.13 400.70,26.70 C403.53,26.27 405.87,25.32 408.10,24.80 C410.33,24.28 411.83,24.23 414.10,23.60 C416.37,22.97 419.18,21.82 421.70,21.00 C424.22,20.18 426.43,19.27 429.20,18.70 C431.97,18.13 435.78,17.83 438.30,17.60 C440.82,17.37 442.30,17.38 444.30,17.30 C446.30,17.22 449.30,17.13 450.30,17.10" fill="none" stroke="#f4e8d8" stroke-width="3.5" stroke-linecap="round" stroke-linejoin="round" stroke-opacity="0.8" filter="url(#bl1)"/>
<path d="M349.20,17.50 C350.35,17.63 353.45,17.83 356.10,18.30 C358.75,18.77 362.10,19.35 365.10,20.30 C368.10,21.25 371.20,22.92 374.10,24.00 C377.00,25.08 379.67,26.23 382.50,26.80 C385.33,27.37 388.07,27.42 391.10,27.40 C394.13,27.38 397.87,27.13 400.70,26.70 C403.53,26.27 405.87,25.32 408.10,24.80 C410.33,24.28 411.83,24.23 414.10,23.60 C416.37,22.97 419.18,21.82 421.70,21.00 C424.22,20.18 426.43,19.27 429.20,18.70 C431.97,18.13 435.78,17.83 438.30,17.60 C440.82,17.37 442.30,17.38 444.30,17.30 C446.30,17.22 449.30,17.13 450.30,17.10" fill="none" stroke="#e08438" stroke-width="1.6" stroke-linecap="butt" stroke-linejoin="round" stroke-dasharray="1.4 0.4" filter="url(#bl05)"/>
<path d="M206.15,233.50 C207.77,235.47 213.53,242.38 215.85,245.30 C218.17,248.22 218.62,249.03 220.05,251.00 C221.48,252.97 222.95,255.18 224.45,257.10 C225.95,259.02 227.27,260.87 229.05,262.50 C230.83,264.13 232.70,265.63 235.15,266.90 C237.60,268.17 241.60,269.45 243.75,270.10 C245.90,270.75 247.33,270.68 248.05,270.80" fill="none" stroke="#f8f7ef" stroke-width="5" stroke-linecap="round" stroke-linejoin="round" stroke-opacity="0.8" filter="url(#bl1)"/>
<path d="M206.15,233.50 C207.77,235.47 213.53,242.38 215.85,245.30 C218.17,248.22 218.62,249.03 220.05,251.00 C221.48,252.97 222.95,255.18 224.45,257.10 C225.95,259.02 227.27,260.87 229.05,262.50 C230.83,264.13 232.70,265.63 235.15,266.90 C237.60,268.17 241.60,269.45 243.75,270.10 C245.90,270.75 247.33,270.68 248.05,270.80" fill="none" stroke="url(#g37)" stroke-width="1.2" stroke-linecap="round" stroke-linejoin="round" filter="url(#bl05)"/>
<path d="M248.05,270.80 C249.85,270.77 255.27,270.97 258.85,270.60 C262.43,270.23 266.52,269.57 269.55,268.60 C272.58,267.63 274.72,266.33 277.05,264.80 C279.38,263.27 281.40,261.20 283.55,259.40 C285.70,257.60 287.45,256.35 289.95,254.00 C292.45,251.65 295.67,248.55 298.55,245.30 C301.43,242.05 305.80,236.30 307.25,234.50" fill="none" stroke="#f8f7ef" stroke-width="5" stroke-linecap="round" stroke-linejoin="round" stroke-opacity="0.8" filter="url(#bl1)"/>
<path d="M248.05,270.80 C249.85,270.77 255.27,270.97 258.85,270.60 C262.43,270.23 266.52,269.57 269.55,268.60 C272.58,267.63 274.72,266.33 277.05,264.80 C279.38,263.27 281.40,261.20 283.55,259.40 C285.70,257.60 287.45,256.35 289.95,254.00 C292.45,251.65 295.67,248.55 298.55,245.30 C301.43,242.05 305.80,236.30 307.25,234.50" fill="none" stroke="url(#g38)" stroke-width="1.2" stroke-linecap="round" stroke-linejoin="round" filter="url(#bl05)"/>
<path d="M307.25,234.50 C307.60,235.05 307.93,235.47 309.35,237.80 C310.77,240.13 314.15,245.80 315.75,248.50 C317.35,251.20 317.15,250.93 318.95,254.00 C320.75,257.07 325.28,264.75 326.55,266.90" fill="none" stroke="url(#g39)" stroke-width="1.0" stroke-linecap="round" stroke-linejoin="round" filter="url(#bl1)"/>
<path d="M206.15,279.40 C207.77,278.93 212.45,277.60 215.85,276.60 C219.25,275.60 222.97,274.37 226.55,273.40 C230.13,272.43 234.30,271.35 237.35,270.80 C240.40,270.25 243.07,270.10 244.85,270.10 C246.63,270.10 247.52,270.68 248.05,270.80" fill="none" stroke="#f4f1e4" stroke-width="1.0" stroke-linecap="round" stroke-linejoin="round" filter="url(#bl1)"/>
<path d="M289.95,279.40 C290.67,279.28 291.37,278.82 294.25,278.70 C297.13,278.58 303.13,278.70 307.25,278.70 C311.37,278.70 311.96,278.70 318.95,278.70 C325.94,278.70 344.16,278.70 349.20,278.70" fill="none" stroke="#f8f7ef" stroke-width="4" stroke-linecap="round" stroke-linejoin="round" stroke-opacity="0.6" filter="url(#bl1)"/>
<path d="M289.95,279.40 C290.67,279.28 291.37,278.82 294.25,278.70 C297.13,278.58 303.13,278.70 307.25,278.70 C311.37,278.70 311.96,278.70 318.95,278.70 C325.94,278.70 344.16,278.70 349.20,278.70" fill="none" stroke="#f2eedc" stroke-width="1.0" stroke-linecap="round" stroke-linejoin="round" filter="url(#bl1)"/>
<path d="M206.15,285.60 C207.40,285.72 210.97,285.65 213.65,286.30 C216.33,286.95 219.73,288.25 222.25,289.50 C224.77,290.75 226.60,291.47 228.75,293.80 C230.90,296.13 233.00,300.10 235.15,303.50 C237.30,306.90 239.50,310.48 241.65,314.20 C243.80,317.92 246.98,323.87 248.05,325.80" fill="none" stroke="#f3efdf" stroke-width="4.5" stroke-linecap="round" stroke-linejoin="round" stroke-opacity="0.8" filter="url(#bl1)"/>
<path d="M206.15,285.60 C207.40,285.72 210.97,285.65 213.65,286.30 C216.33,286.95 219.73,288.25 222.25,289.50 C224.77,290.75 226.60,291.47 228.75,293.80 C230.90,296.13 233.00,300.10 235.15,303.50 C237.30,306.90 239.50,310.48 241.65,314.20 C243.80,317.92 246.98,323.87 248.05,325.80" fill="none" stroke="url(#g40)" stroke-width="1.4" stroke-linecap="butt" stroke-linejoin="round" stroke-dasharray="1.6 0.6" filter="url(#bl05)"/>
<path d="M206.15,300.40 C207.38,300.48 210.52,299.85 213.55,300.90 C216.58,301.95 220.77,304.48 224.35,306.70 C227.93,308.92 232.10,312.07 235.05,314.20 C238.00,316.33 239.88,317.57 242.05,319.50 C244.22,321.43 247.05,324.75 248.05,325.80" fill="none" stroke="#f8f7ef" stroke-width="3.5" stroke-linecap="round" stroke-linejoin="round" stroke-opacity="0.8" filter="url(#bl1)"/>
<path d="M206.15,300.40 C207.38,300.48 210.52,299.85 213.55,300.90 C216.58,301.95 220.77,304.48 224.35,306.70 C227.93,308.92 232.10,312.07 235.05,314.20 C238.00,316.33 239.88,317.57 242.05,319.50 C244.22,321.43 247.05,324.75 248.05,325.80" fill="none" stroke="url(#g41)" stroke-width="1.25" stroke-linecap="butt" stroke-linejoin="round" stroke-dasharray="1.8 0.6" filter="url(#bl05)"/>
<path d="M248.05,325.80 C249.85,322.80 255.27,312.95 258.85,307.80 C262.43,302.65 266.52,298.48 269.55,294.90 C272.58,291.32 274.72,288.45 277.05,286.30 C279.38,284.15 282.47,282.72 283.55,282.00" fill="none" stroke="#f8f7ef" stroke-width="3.5" stroke-linecap="round" stroke-linejoin="round" stroke-opacity="0.8" filter="url(#bl1)"/>
<path d="M248.05,325.80 C249.85,322.80 255.27,312.95 258.85,307.80 C262.43,302.65 266.52,298.48 269.55,294.90 C272.58,291.32 274.72,288.45 277.05,286.30 C279.38,284.15 282.47,282.72 283.55,282.00" fill="none" stroke="url(#g42)" stroke-width="1.25" stroke-linecap="butt" stroke-linejoin="round" stroke-dasharray="1.8 0.6" filter="url(#bl05)"/>
<path d="M277.05,286.30 C278.13,285.58 281.55,283.12 283.55,282.00 C285.55,280.88 288.13,280.00 289.05,279.60" fill="none" stroke="#efe4c8" stroke-width="1.0" stroke-linecap="round" stroke-linejoin="round" filter="url(#bl05)"/>
<path d="M323.05,280.50 C323.88,280.92 326.32,281.70 328.05,283.00 C329.78,284.30 331.58,286.32 333.45,288.30 C335.32,290.28 337.32,292.95 339.25,294.90 C341.18,296.85 343.39,299.02 345.05,300.00 C346.71,300.98 348.51,300.67 349.20,300.80" fill="none" stroke="#f8f7ef" stroke-width="3.5" stroke-linecap="round" stroke-linejoin="round" stroke-opacity="0.8" filter="url(#bl1)"/>
<path d="M323.05,280.50 C323.88,280.92 326.32,281.70 328.05,283.00 C329.78,284.30 331.58,286.32 333.45,288.30 C335.32,290.28 337.32,292.95 339.25,294.90 C341.18,296.85 343.39,299.02 345.05,300.00 C346.71,300.98 348.51,300.67 349.20,300.80" fill="none" stroke="url(#g43)" stroke-width="1.1" stroke-linecap="round" stroke-linejoin="round" filter="url(#bl05)"/>
<path d="M319.05,286.00 C324.08,286.05 344.18,286.25 349.20,286.30" fill="none" stroke="#f0e4c8" stroke-width="1.0" stroke-linecap="round" stroke-linejoin="round" filter="url(#bl05)"/>
<path d="M385.10,200.10 C386.10,200.10 389.02,200.08 391.10,200.10 C393.18,200.12 395.43,199.97 397.60,200.20 C399.77,200.43 401.95,200.97 404.10,201.50 C406.25,202.03 407.83,202.20 410.50,203.40 C413.17,204.60 416.70,206.73 420.10,208.70 C423.50,210.67 427.32,212.50 430.90,215.20 C434.48,217.90 438.37,221.78 441.60,224.90 C444.83,228.02 448.85,232.40 450.30,233.90" fill="none" stroke="#f7f6ee" stroke-width="1.0" stroke-linecap="round" stroke-linejoin="round" filter="url(#bl1)"/>
<path d="M450.30,233.90 C451.37,232.03 454.20,226.35 456.70,222.70 C459.20,219.05 462.08,215.05 465.30,212.00 C468.52,208.95 472.78,206.27 476.00,204.40 C479.22,202.53 481.89,201.60 484.60,200.80 C487.31,200.00 490.98,199.80 492.25,199.60" fill="none" stroke="#f7f6ee" stroke-width="1.0" stroke-linecap="round" stroke-linejoin="round" filter="url(#bl1)"/>
<path d="M349.20,232.50 C350.82,230.52 355.50,224.38 358.90,220.60 C362.30,216.82 366.02,212.85 369.60,209.80 C373.18,206.75 377.72,203.88 380.40,202.30 C383.08,200.72 383.92,200.67 385.70,200.30 C387.48,199.93 390.20,200.13 391.10,200.10" fill="none" stroke="#f7f6ee" stroke-width="1.0" stroke-linecap="round" stroke-linejoin="round" filter="url(#bl1)"/>
<path d="M349.20,200.10 C356.18,200.10 384.12,200.10 391.10,200.10" fill="none" stroke="#f7f6ee" stroke-width="1.0" stroke-linecap="round" stroke-linejoin="round" filter="url(#bl1)"/>
<path d="M349.20,233.50 C350.82,235.47 356.58,242.38 358.90,245.30 C361.22,248.22 361.67,249.03 363.10,251.00 C364.53,252.97 366.00,255.18 367.50,257.10 C369.00,259.02 370.32,260.87 372.10,262.50 C373.88,264.13 375.75,265.63 378.20,266.90 C380.65,268.17 384.65,269.45 386.80,270.10 C388.95,270.75 390.38,270.68 391.10,270.80" fill="none" stroke="#f8f7ef" stroke-width="5" stroke-linecap="round" stroke-linejoin="round" stroke-opacity="0.7" filter="url(#bl1)"/>
<path d="M349.20,233.50 C350.82,235.47 356.58,242.38 358.90,245.30 C361.22,248.22 361.67,249.03 363.10,251.00 C364.53,252.97 366.00,255.18 367.50,257.10 C369.00,259.02 370.32,260.87 372.10,262.50 C373.88,264.13 375.75,265.63 378.20,266.90 C380.65,268.17 384.65,269.45 386.80,270.10 C388.95,270.75 390.38,270.68 391.10,270.80" fill="none" stroke="url(#g44)" stroke-width="1.2" stroke-linecap="round" stroke-linejoin="round" filter="url(#bl05)"/>
<path d="M391.10,270.80 C392.90,270.77 398.32,270.97 401.90,270.60 C405.48,270.23 409.57,269.57 412.60,268.60 C415.63,267.63 417.77,266.33 420.10,264.80 C422.43,263.27 424.45,261.20 426.60,259.40 C428.75,257.60 430.50,256.35 433.00,254.00 C435.50,251.65 438.72,248.55 441.60,245.30 C444.48,242.05 448.85,236.30 450.30,234.50" fill="none" stroke="#f8f7ef" stroke-width="5" stroke-linecap="round" stroke-linejoin="round" stroke-opacity="0.7" filter="url(#bl1)"/>
<path d="M391.10,270.80 C392.90,270.77 398.32,270.97 401.90,270.60 C405.48,270.23 409.57,269.57 412.60,268.60 C415.63,267.63 417.77,266.33 420.10,264.80 C422.43,263.27 424.45,261.20 426.60,259.40 C428.75,257.60 430.50,256.35 433.00,254.00 C435.50,251.65 438.72,248.55 441.60,245.30 C444.48,242.05 448.85,236.30 450.30,234.50" fill="none" stroke="url(#g45)" stroke-width="1.2" stroke-linecap="round" stroke-linejoin="round" filter="url(#bl05)"/>
<path d="M450.30,234.50 C450.65,235.05 450.98,235.47 452.40,237.80 C453.82,240.13 457.20,245.80 458.80,248.50 C460.40,251.20 460.20,250.93 462.00,254.00 C463.80,257.07 468.33,264.75 469.60,266.90" fill="none" stroke="url(#g46)" stroke-width="1.0" stroke-linecap="round" stroke-linejoin="round" filter="url(#bl1)"/>
<path d="M349.20,279.40 C350.82,278.93 355.50,277.60 358.90,276.60 C362.30,275.60 366.02,274.37 369.60,273.40 C373.18,272.43 377.35,271.35 380.40,270.80 C383.45,270.25 386.12,270.10 387.90,270.10 C389.68,270.10 390.57,270.68 391.10,270.80" fill="none" stroke="#f4f1e4" stroke-width="1.0" stroke-linecap="round" stroke-linejoin="round" filter="url(#bl1)"/>
<path d="M433.00,279.40 C433.72,279.28 434.42,278.82 437.30,278.70 C440.18,278.58 446.18,278.70 450.30,278.70 C454.42,278.70 455.01,278.70 462.00,278.70 C468.99,278.70 487.21,278.70 492.25,278.70" fill="none" stroke="#f8f7ef" stroke-width="4" stroke-linecap="round" stroke-linejoin="round" stroke-opacity="0.6" filter="url(#bl1)"/>
<path d="M433.00,279.40 C433.72,279.28 434.42,278.82 437.30,278.70 C440.18,278.58 446.18,278.70 450.30,278.70 C454.42,278.70 455.01,278.70 462.00,278.70 C468.99,278.70 487.21,278.70 492.25,278.70" fill="none" stroke="#f2eedc" stroke-width="1.0" stroke-linecap="round" stroke-linejoin="round" filter="url(#bl1)"/>
<path d="M349.20,285.60 C350.45,285.72 354.02,285.65 356.70,286.30 C359.38,286.95 362.78,288.25 365.30,289.50 C367.82,290.75 369.65,291.47 371.80,293.80 C373.95,296.13 376.05,300.10 378.20,303.50 C380.35,306.90 382.55,310.48 384.70,314.20 C386.85,317.92 390.03,323.87 391.10,325.80" fill="none" stroke="#f3efdf" stroke-width="4.5" stroke-linecap="round" stroke-linejoin="round" stroke-opacity="0.8" filter="url(#bl1)"/>
<path d="M349.20,285.60 C350.45,285.72 354.02,285.65 356.70,286.30 C359.38,286.95 362.78,288.25 365.30,289.50 C367.82,290.75 369.65,291.47 371.80,293.80 C373.95,296.13 376.05,300.10 378.20,303.50 C380.35,306.90 382.55,310.48 384.70,314.20 C386.85,317.92 390.03,323.87 391.10,325.80" fill="none" stroke="url(#g47)" stroke-width="1.4" stroke-linecap="butt" stroke-linejoin="round" stroke-dasharray="1.6 0.6" filter="url(#bl05)"/>
<path d="M349.20,300.40 C350.43,300.48 353.57,299.85 356.60,300.90 C359.63,301.95 363.82,304.48 367.40,306.70 C370.98,308.92 375.15,312.07 378.10,314.20 C381.05,316.33 382.93,317.57 385.10,319.50 C387.27,321.43 390.10,324.75 391.10,325.80" fill="none" stroke="#f8f7ef" stroke-width="3.5" stroke-linecap="round" stroke-linejoin="round" stroke-opacity="0.8" filter="url(#bl1)"/>
<path d="M349.20,300.40 C350.43,300.48 353.57,299.85 356.60,300.90 C359.63,301.95 363.82,304.48 367.40,306.70 C370.98,308.92 375.15,312.07 378.10,314.20 C381.05,316.33 382.93,317.57 385.10,319.50 C387.27,321.43 390.10,324.75 391.10,325.80" fill="none" stroke="url(#g48)" stroke-width="1.25" stroke-linecap="butt" stroke-linejoin="round" stroke-dasharray="1.8 0.6" filter="url(#bl05)"/>
<path d="M391.10,325.80 C392.90,322.80 398.32,312.95 401.90,307.80 C405.48,302.65 409.57,298.48 412.60,294.90 C415.63,291.32 417.77,288.45 420.10,286.30 C422.43,284.15 425.52,282.72 426.60,282.00" fill="none" stroke="#f8f7ef" stroke-width="3.5" stroke-linecap="round" stroke-linejoin="round" stroke-opacity="0.8" filter="url(#bl1)"/>
<path d="M391.10,325.80 C392.90,322.80 398.32,312.95 401.90,307.80 C405.48,302.65 409.57,298.48 412.60,294.90 C415.63,291.32 417.77,288.45 420.10,286.30 C422.43,284.15 425.52,282.72 426.60,282.00" fill="none" stroke="url(#g49)" stroke-width="1.25" stroke-linecap="butt" stroke-linejoin="round" stroke-dasharray="1.8 0.6" filter="url(#bl05)"/>
<path d="M420.10,286.30 C421.18,285.58 424.60,283.12 426.60,282.00 C428.60,280.88 431.18,280.00 432.10,279.60" fill="none" stroke="#efe4c8" stroke-width="1.0" stroke-linecap="round" stroke-linejoin="round" filter="url(#bl05)"/>
<path d="M466.10,280.50 C466.93,280.92 469.37,281.70 471.10,283.00 C472.83,284.30 474.63,286.32 476.50,288.30 C478.37,290.28 480.37,292.95 482.30,294.90 C484.23,296.85 486.44,299.02 488.10,300.00 C489.76,300.98 491.56,300.67 492.25,300.80" fill="none" stroke="#f8f7ef" stroke-width="3.5" stroke-linecap="round" stroke-linejoin="round" stroke-opacity="0.8" filter="url(#bl1)"/>
<path d="M466.10,280.50 C466.93,280.92 469.37,281.70 471.10,283.00 C472.83,284.30 474.63,286.32 476.50,288.30 C478.37,290.28 480.37,292.95 482.30,294.90 C484.23,296.85 486.44,299.02 488.10,300.00 C489.76,300.98 491.56,300.67 492.25,300.80" fill="none" stroke="url(#g50)" stroke-width="1.1" stroke-linecap="round" stroke-linejoin="round" filter="url(#bl05)"/>
<path d="M462.10,286.00 C467.12,286.05 487.23,286.25 492.25,286.30" fill="none" stroke="#f0e4c8" stroke-width="1.0" stroke-linecap="round" stroke-linejoin="round" filter="url(#bl05)"/>
<defs><linearGradient id="g1" gradientUnits="userSpaceOnUse" x1="164.00" y1="0" x2="206.00" y2="0"><stop offset="0.0000" stop-color="#0a0a0a"/><stop offset="0.1429" stop-color="#5a1a30"/><stop offset="0.3333" stop-color="#8e2646"/><stop offset="1.0000" stop-color="#8e2646"/></linearGradient><linearGradient id="g2" gradientUnits="userSpaceOnUse" x1="63.00" y1="0" x2="204.00" y2="0"><stop offset="0.0000" stop-color="#a8284a"/><stop offset="0.0780" stop-color="#8a2444"/><stop offset="0.1631" stop-color="#3a1420"/><stop offset="0.2270" stop-color="#5a1c2c"/><stop offset="0.2624" stop-color="#d05a28"/><stop offset="0.2908" stop-color="#e8782a"/><stop offset="0.3191" stop-color="#8a2a30"/><stop offset="0.3617" stop-color="#0a0a0a"/><stop offset="0.5887" stop-color="#0a0a0a"/><stop offset="0.6312" stop-color="#a02838"/><stop offset="0.6738" stop-color="#e0702a"/><stop offset="0.7518" stop-color="#e0702a"/><stop offset="0.7943" stop-color="#b02838"/><stop offset="0.9149" stop-color="#a02848"/><stop offset="0.9645" stop-color="#c04030"/><stop offset="1.0000" stop-color="#e07830"/></linearGradient><linearGradient id="g3" gradientUnits="userSpaceOnUse" x1="63.00" y1="0" x2="164.00" y2="0"><stop offset="0.0000" stop-color="#a8284a"/><stop offset="0.0693" stop-color="#5a1c30"/><stop offset="0.1287" stop-color="#0a0a0a"/><stop offset="0.3267" stop-color="#0a0a0a"/><stop offset="0.3762" stop-color="#9a2848"/><stop offset="0.4455" stop-color="#9a2848"/><stop offset="0.4950" stop-color="#0a0a0a"/><stop offset="1.0000" stop-color="#0a0a0a"/></linearGradient><linearGradient id="g4" gradientUnits="userSpaceOnUse" x1="63.00" y1="0" x2="164.00" y2="0"><stop offset="0.0000" stop-color="#9a2a4c"/><stop offset="0.4851" stop-color="#8a2848"/><stop offset="0.5842" stop-color="#3a1420"/><stop offset="0.6436" stop-color="#0a0a0a"/><stop offset="1.0000" stop-color="#0a0a0a"/></linearGradient><linearGradient id="g5" gradientUnits="userSpaceOnUse" x1="164.00" y1="0" x2="206.00" y2="0"><stop offset="0.0000" stop-color="#0a0a0a"/><stop offset="0.4286" stop-color="#3a1420"/><stop offset="0.6667" stop-color="#a02848"/><stop offset="1.0000" stop-color="#b02848"/></linearGradient><linearGradient id="g6" gradientUnits="userSpaceOnUse" x1="164.00" y1="0" x2="206.00" y2="0"><stop offset="0.0000" stop-color="#5a1a30"/><stop offset="0.1429" stop-color="#8e2646"/><stop offset="1.0000" stop-color="#8e2646"/></linearGradient><linearGradient id="g7" gradientUnits="userSpaceOnUse" x1="63.00" y1="0" x2="106.00" y2="0"><stop offset="0.0000" stop-color="#a02848"/><stop offset="1.0000" stop-color="#8a2848"/></linearGradient><linearGradient id="g8" gradientUnits="userSpaceOnUse" x1="63.00" y1="0" x2="86.00" y2="0"><stop offset="0.0000" stop-color="#b03048"/><stop offset="0.3043" stop-color="#7a2040"/><stop offset="0.6522" stop-color="#0a0a0a"/><stop offset="1.0000" stop-color="#0a0a0a"/></linearGradient><linearGradient id="g9" gradientUnits="userSpaceOnUse" x1="86.00" y1="0" x2="105.00" y2="0"><stop offset="0.0000" stop-color="#0a0a0a"/><stop offset="0.2632" stop-color="#0a0a0a"/><stop offset="0.4211" stop-color="#8a2040"/><stop offset="0.7895" stop-color="#8a2040"/><stop offset="1.0000" stop-color="#3a1420"/></linearGradient><linearGradient id="g10" gradientUnits="userSpaceOnUse" x1="164.00" y1="0" x2="206.00" y2="0"><stop offset="0.0000" stop-color="#3a1420"/><stop offset="0.0952" stop-color="#8e2646"/><stop offset="1.0000" stop-color="#8a2848"/></linearGradient><linearGradient id="g11" gradientUnits="userSpaceOnUse" x1="63.00" y1="0" x2="105.00" y2="0"><stop offset="0.0000" stop-color="#e88838"/><stop offset="0.3571" stop-color="#d05030"/><stop offset="0.6905" stop-color="#a02848"/><stop offset="1.0000" stop-color="#7a1838"/></linearGradient><linearGradient id="g12" gradientUnits="userSpaceOnUse" x1="63.00" y1="0" x2="88.00" y2="0"><stop offset="0.0000" stop-color="#e8782c"/><stop offset="0.5200" stop-color="#e0602a"/><stop offset="0.8400" stop-color="#a02840"/><stop offset="1.0000" stop-color="#5a1a30"/></linearGradient><linearGradient id="g13" gradientUnits="userSpaceOnUse" x1="88.00" y1="0" x2="105.00" y2="0"><stop offset="0.0000" stop-color="#5a1a30"/><stop offset="0.2353" stop-color="#2a1018"/><stop offset="1.0000" stop-color="#0a0a0a"/></linearGradient><linearGradient id="g14" gradientUnits="userSpaceOnUse" x1="63.00" y1="0" x2="105.00" y2="0"><stop offset="0.0000" stop-color="#9a2a4c"/><stop offset="0.2143" stop-color="#6a2040"/><stop offset="0.4048" stop-color="#0a0a0a"/><stop offset="1.0000" stop-color="#0a0a0a"/></linearGradient><linearGradient id="g15" gradientUnits="userSpaceOnUse" x1="134.00" y1="0" x2="176.00" y2="0"><stop offset="0.0000" stop-color="#0a0a0a"/><stop offset="0.1429" stop-color="#0a0a0a"/><stop offset="0.3333" stop-color="#7a2048"/><stop offset="1.0000" stop-color="#80204a"/></linearGradient><filter id="bl3" x="-20%" y="-50%" width="140%" height="200%"><feGaussianBlur stdDeviation="3"/></filter><linearGradient id="g16" gradientUnits="userSpaceOnUse" x1="593.00" y1="0" x2="635.00" y2="0"><stop offset="0.0000" stop-color="#5a1a30"/><stop offset="0.1667" stop-color="#8a2244"/><stop offset="1.0000" stop-color="#8a2244"/></linearGradient><linearGradient id="g17" gradientUnits="userSpaceOnUse" x1="492.00" y1="0" x2="593.00" y2="0"><stop offset="0.0000" stop-color="#a8284a"/><stop offset="0.0990" stop-color="#8a2444"/><stop offset="0.1980" stop-color="#3a1420"/><stop offset="0.3366" stop-color="#5a1c2c"/><stop offset="0.3762" stop-color="#d05a28"/><stop offset="0.4554" stop-color="#e07028"/><stop offset="0.4950" stop-color="#8a2a30"/><stop offset="0.5347" stop-color="#0a0a0a"/><stop offset="1.0000" stop-color="#0a0a0a"/></linearGradient><linearGradient id="g18" gradientUnits="userSpaceOnUse" x1="534.00" y1="0" x2="635.00" y2="0"><stop offset="0.0000" stop-color="#e04a20"/><stop offset="0.0990" stop-color="#c03a28"/><stop offset="0.1485" stop-color="#0a0a0a"/><stop offset="0.3762" stop-color="#0a0a0a"/><stop offset="0.4554" stop-color="#9a2848"/><stop offset="0.5149" stop-color="#d04a24"/><stop offset="0.6337" stop-color="#d04a24"/><stop offset="0.6832" stop-color="#a82840"/><stop offset="0.8911" stop-color="#a02848"/><stop offset="0.9505" stop-color="#d05028"/><stop offset="1.0000" stop-color="#e07830"/></linearGradient><linearGradient id="g19" gradientUnits="userSpaceOnUse" x1="492.00" y1="0" x2="593.00" y2="0"><stop offset="0.0000" stop-color="#e0602a"/><stop offset="0.0396" stop-color="#b02838"/><stop offset="0.0990" stop-color="#0a0a0a"/><stop offset="1.0000" stop-color="#0a0a0a"/></linearGradient><linearGradient id="g20" gradientUnits="userSpaceOnUse" x1="492.00" y1="0" x2="635.00" y2="0"><stop offset="0.0000" stop-color="#b02838"/><stop offset="0.0350" stop-color="#6e1c40"/><stop offset="0.2308" stop-color="#7a2450"/><stop offset="0.3706" stop-color="#7a2450"/><stop offset="0.4755" stop-color="#6e1c40"/><stop offset="0.5175" stop-color="#3a1420"/><stop offset="0.6154" stop-color="#3a1420"/><stop offset="0.6643" stop-color="#e06a28"/><stop offset="0.7343" stop-color="#e06a28"/><stop offset="0.7762" stop-color="#8a2848"/><stop offset="1.0000" stop-color="#8a2848"/></linearGradient><linearGradient id="g21" gradientUnits="userSpaceOnUse" x1="545.00" y1="0" x2="635.00" y2="0"><stop offset="0.0000" stop-color="#fbf8f0"/><stop offset="0.1667" stop-color="#f4ecd8"/><stop offset="0.4444" stop-color="#efdcb4"/><stop offset="0.6667" stop-color="#edbc80"/><stop offset="1.0000" stop-color="#ecb070"/></linearGradient><linearGradient id="g22" gradientUnits="userSpaceOnUse" x1="526.00" y1="0" x2="594.00" y2="0"><stop offset="0.0000" stop-color="#0a0a0a"/><stop offset="0.8824" stop-color="#0a0a0a"/><stop offset="0.9559" stop-color="#e07028"/><stop offset="1.0000" stop-color="#e07028"/></linearGradient><linearGradient id="g23" gradientUnits="userSpaceOnUse" x1="492.00" y1="0" x2="532.00" y2="0"><stop offset="0.0000" stop-color="#e07030"/><stop offset="0.1500" stop-color="#a02848"/><stop offset="0.3500" stop-color="#0a0a0a"/><stop offset="0.8500" stop-color="#0a0a0a"/><stop offset="1.0000" stop-color="#7a1838"/></linearGradient><linearGradient id="g24" gradientUnits="userSpaceOnUse" x1="534.00" y1="0" x2="594.00" y2="0"><stop offset="0.0000" stop-color="#0a0a0a"/><stop offset="0.8667" stop-color="#0a0a0a"/><stop offset="0.9500" stop-color="#e07028"/><stop offset="1.0000" stop-color="#e07028"/></linearGradient><linearGradient id="g25" gradientUnits="userSpaceOnUse" x1="492.00" y1="0" x2="534.00" y2="0"><stop offset="0.0000" stop-color="#f0a050"/><stop offset="0.3095" stop-color="#e06a30"/><stop offset="0.6190" stop-color="#b02840"/><stop offset="1.0000" stop-color="#7a1838"/></linearGradient><linearGradient id="g26" gradientUnits="userSpaceOnUse" x1="492.00" y1="0" x2="534.00" y2="0"><stop offset="0.0000" stop-color="#e8782c"/><stop offset="0.3095" stop-color="#e0602a"/><stop offset="0.4762" stop-color="#a02840"/><stop offset="0.6190" stop-color="#3a1420"/><stop offset="1.0000" stop-color="#0a0a0a"/></linearGradient><linearGradient id="g27" gradientUnits="userSpaceOnUse" x1="492.00" y1="0" x2="534.00" y2="0"><stop offset="0.0000" stop-color="#9a2a4c"/><stop offset="0.2381" stop-color="#6a2040"/><stop offset="0.4286" stop-color="#0a0a0a"/><stop offset="1.0000" stop-color="#0a0a0a"/></linearGradient><linearGradient id="g28" gradientUnits="userSpaceOnUse" x1="555.00" y1="0" x2="614.00" y2="0"><stop offset="0.0000" stop-color="#0a0a0a"/><stop offset="0.1186" stop-color="#5a1a30"/><stop offset="0.2542" stop-color="#8a2848"/><stop offset="0.4237" stop-color="#c04028"/><stop offset="0.5254" stop-color="#e05a20"/><stop offset="1.0000" stop-color="#e05a20"/></linearGradient><filter id="bl1" x="-10%" y="-50%" width="120%" height="200%"><feGaussianBlur stdDeviation="1.3"/></filter><filter id="bl2" x="-10%" y="-50%" width="120%" height="200%"><feGaussianBlur stdDeviation="2.2"/></filter><filter id="bl05" x="-10%" y="-50%" width="120%" height="200%"><feGaussianBlur stdDeviation="0.45"/></filter><linearGradient id="g29" gradientUnits="userSpaceOnUse" x1="206.05" y1="0" x2="307.05" y2="0"><stop offset="0.0000" stop-color="#d8b878"/><stop offset="0.2673" stop-color="#d8b878"/><stop offset="0.3465" stop-color="#ebe0c4"/><stop offset="0.4158" stop-color="#f3eede"/><stop offset="0.4851" stop-color="#ebe0c4"/><stop offset="0.5644" stop-color="#d8b878"/><stop offset="0.7624" stop-color="#d8b070"/><stop offset="0.8812" stop-color="#e0a060"/><stop offset="1.0000" stop-color="#e08848"/></linearGradient><linearGradient id="g30" gradientUnits="userSpaceOnUse" x1="206.05" y1="0" x2="248.05" y2="0"><stop offset="0.0000" stop-color="#dcc48c"/><stop offset="0.6905" stop-color="#d8b070"/><stop offset="0.8810" stop-color="#e09048"/><stop offset="1.0000" stop-color="#e07a34"/></linearGradient><linearGradient id="g31" gradientUnits="userSpaceOnUse" x1="248.05" y1="0" x2="307.05" y2="0"><stop offset="0.0000" stop-color="#e07a34"/><stop offset="0.1186" stop-color="#dca060"/><stop offset="1.0000" stop-color="#dca060"/></linearGradient><linearGradient id="g32" gradientUnits="userSpaceOnUse" x1="349.10" y1="0" x2="450.10" y2="0"><stop offset="0.0000" stop-color="#e0a868"/><stop offset="0.1683" stop-color="#e2c088"/><stop offset="0.2871" stop-color="#ece0c0"/><stop offset="0.4059" stop-color="#f4f0e2"/><stop offset="0.5248" stop-color="#ece0c0"/><stop offset="0.6634" stop-color="#e2c088"/><stop offset="0.8614" stop-color="#e0a868"/><stop offset="1.0000" stop-color="#e09858"/></linearGradient><linearGradient id="g33" gradientUnits="userSpaceOnUse" x1="450.10" y1="0" x2="492.10" y2="0"><stop offset="0.0000" stop-color="#e08a40"/><stop offset="1.0000" stop-color="#e09c54"/></linearGradient><linearGradient id="g34" gradientUnits="userSpaceOnUse" x1="349.10" y1="0" x2="450.10" y2="0"><stop offset="0.0000" stop-color="#e08038"/><stop offset="0.1683" stop-color="#e06a30"/><stop offset="0.2871" stop-color="#c83a44"/><stop offset="0.3663" stop-color="#a03868"/><stop offset="0.4653" stop-color="#a03868"/><stop offset="0.5446" stop-color="#c83a44"/><stop offset="0.6634" stop-color="#e05a30"/><stop offset="1.0000" stop-color="#e05a30"/></linearGradient><linearGradient id="g35" gradientUnits="userSpaceOnUse" x1="349.10" y1="0" x2="391.10" y2="0"><stop offset="0.0000" stop-color="#e07830"/><stop offset="0.5952" stop-color="#e06a30"/><stop offset="0.7857" stop-color="#b03850"/><stop offset="0.9048" stop-color="#e07030"/><stop offset="1.0000" stop-color="#e07030"/></linearGradient><linearGradient id="g36" gradientUnits="userSpaceOnUse" x1="391.10" y1="0" x2="450.10" y2="0"><stop offset="0.0000" stop-color="#e07030"/><stop offset="0.0847" stop-color="#9a3060"/><stop offset="0.2203" stop-color="#c04040"/><stop offset="0.5932" stop-color="#e07030"/><stop offset="1.0000" stop-color="#e05a26"/></linearGradient><linearGradient id="g37" gradientUnits="userSpaceOnUse" x1="206.05" y1="0" x2="248.05" y2="0"><stop offset="0.0000" stop-color="#ffffff"/><stop offset="0.2143" stop-color="#f8f6ee"/><stop offset="0.5238" stop-color="#efead4"/><stop offset="0.8333" stop-color="#e8e0c0"/><stop offset="1.0000" stop-color="#e8e0c0"/></linearGradient><linearGradient id="g38" gradientUnits="userSpaceOnUse" x1="248.05" y1="0" x2="307.05" y2="0"><stop offset="0.0000" stop-color="#e8e0c0"/><stop offset="0.3390" stop-color="#eae3c6"/><stop offset="0.5593" stop-color="#f0ebd8"/><stop offset="0.7627" stop-color="#f6f4ea"/><stop offset="1.0000" stop-color="#f6f4ea"/></linearGradient><linearGradient id="g39" gradientUnits="userSpaceOnUse" x1="307.05" y1="0" x2="319.05" y2="0"><stop offset="0.0000" stop-color="#f6f4ea"/><stop offset="1.0000" stop-color="#fbfaf5"/></linearGradient><linearGradient id="g40" gradientUnits="userSpaceOnUse" x1="206.05" y1="0" x2="248.05" y2="0"><stop offset="0.0000" stop-color="#e4c890"/><stop offset="0.2857" stop-color="#e2b878"/><stop offset="0.5000" stop-color="#e09a58"/><stop offset="0.6429" stop-color="#9a3848"/><stop offset="0.7857" stop-color="#3a1a22"/><stop offset="1.0000" stop-color="#0a0a0a"/></linearGradient><linearGradient id="g41" gradientUnits="userSpaceOnUse" x1="206.05" y1="0" x2="248.05" y2="0"><stop offset="0.0000" stop-color="#e05a2c"/><stop offset="0.2619" stop-color="#d84838"/><stop offset="0.5000" stop-color="#8a2848"/><stop offset="0.6905" stop-color="#3a1622"/><stop offset="1.0000" stop-color="#0a0a0a"/></linearGradient><linearGradient id="g42" gradientUnits="userSpaceOnUse" x1="248.05" y1="0" x2="277.05" y2="0"><stop offset="0.0000" stop-color="#0a0a0a"/><stop offset="0.2414" stop-color="#3a1622"/><stop offset="0.5172" stop-color="#b03838"/><stop offset="0.7241" stop-color="#e05030"/><stop offset="1.0000" stop-color="#e09050"/></linearGradient><linearGradient id="g43" gradientUnits="userSpaceOnUse" x1="323.05" y1="0" x2="349.05" y2="0"><stop offset="0.0000" stop-color="#f3ead6"/><stop offset="0.3077" stop-color="#ead0a8"/><stop offset="0.5385" stop-color="#e4a060"/><stop offset="0.7692" stop-color="#e07030"/><stop offset="0.8846" stop-color="#c83838"/><stop offset="1.0000" stop-color="#a02848"/></linearGradient><linearGradient id="g44" gradientUnits="userSpaceOnUse" x1="349.10" y1="0" x2="391.10" y2="0"><stop offset="0.0000" stop-color="#ffffff"/><stop offset="0.2143" stop-color="#f9f8f0"/><stop offset="0.5238" stop-color="#f2eedc"/><stop offset="0.8333" stop-color="#eeead4"/><stop offset="1.0000" stop-color="#eeead4"/></linearGradient><linearGradient id="g45" gradientUnits="userSpaceOnUse" x1="391.10" y1="0" x2="450.10" y2="0"><stop offset="0.0000" stop-color="#eeead4"/><stop offset="0.3390" stop-color="#efebd6"/><stop offset="0.5593" stop-color="#f3f0e2"/><stop offset="0.7627" stop-color="#f7f5ee"/><stop offset="1.0000" stop-color="#f7f5ee"/></linearGradient><linearGradient id="g46" gradientUnits="userSpaceOnUse" x1="450.10" y1="0" x2="462.10" y2="0"><stop offset="0.0000" stop-color="#f6f4ea"/><stop offset="1.0000" stop-color="#fbfaf5"/></linearGradient><linearGradient id="g47" gradientUnits="userSpaceOnUse" x1="349.10" y1="0" x2="391.10" y2="0"><stop offset="0.0000" stop-color="#e4c890"/><stop offset="0.2857" stop-color="#e2b878"/><stop offset="0.5000" stop-color="#e09a58"/><stop offset="0.6429" stop-color="#9a3848"/><stop offset="0.7857" stop-color="#3a1a22"/><stop offset="1.0000" stop-color="#0a0a0a"/></linearGradient><linearGradient id="g48" gradientUnits="userSpaceOnUse" x1="349.10" y1="0" x2="391.10" y2="0"><stop offset="0.0000" stop-color="#e05a2c"/><stop offset="0.2619" stop-color="#d84838"/><stop offset="0.5000" stop-color="#8a2848"/><stop offset="0.6905" stop-color="#3a1622"/><stop offset="1.0000" stop-color="#0a0a0a"/></linearGradient><linearGradient id="g49" gradientUnits="userSpaceOnUse" x1="391.10" y1="0" x2="420.10" y2="0"><stop offset="0.0000" stop-color="#0a0a0a"/><stop offset="0.2414" stop-color="#3a1622"/><stop offset="0.5172" stop-color="#b03838"/><stop offset="0.7241" stop-color="#e05030"/><stop offset="1.0000" stop-color="#e09050"/></linearGradient><linearGradient id="g50" gradientUnits="userSpaceOnUse" x1="466.10" y1="0" x2="492.10" y2="0"><stop offset="0.0000" stop-color="#f3ead6"/><stop offset="0.3077" stop-color="#ead0a8"/><stop offset="0.5385" stop-color="#e4a060"/><stop offset="0.7692" stop-color="#e07030"/><stop offset="0.8846" stop-color="#c83838"/><stop offset="1.0000" stop-color="#a02848"/></linearGradient></defs>
<rect x="63.10" y="4.00" width="143.05" height="142.50" fill="none" stroke="#000" stroke-width="1.2"/>
<line x1="63.10" y1="146.50" x2="63.10" y2="151.70" stroke="#000" stroke-width="1.2"/>
<line x1="105.00" y1="146.50" x2="105.00" y2="151.70" stroke="#000" stroke-width="1.2"/>
<line x1="164.25" y1="146.50" x2="164.25" y2="151.70" stroke="#000" stroke-width="1.2"/>
<line x1="206.15" y1="146.50" x2="206.15" y2="151.70" stroke="#000" stroke-width="1.2"/>
<text x="63.10" y="165.10" text-anchor="middle" font-size="11">X</text>
<text x="105.00" y="165.10" text-anchor="middle" font-size="11">Γ</text>
<text x="164.25" y="165.10" text-anchor="middle" font-size="11">M</text>
<text x="206.15" y="165.10" text-anchor="middle" font-size="11">X</text>
<rect x="206.15" y="4.00" width="143.05" height="142.50" fill="none" stroke="#000" stroke-width="1.2"/>
<line x1="206.15" y1="146.50" x2="206.15" y2="151.70" stroke="#000" stroke-width="1.2"/>
<line x1="248.05" y1="146.50" x2="248.05" y2="151.70" stroke="#000" stroke-width="1.2"/>
<line x1="307.30" y1="146.50" x2="307.30" y2="151.70" stroke="#000" stroke-width="1.2"/>
<line x1="349.20" y1="146.50" x2="349.20" y2="151.70" stroke="#000" stroke-width="1.2"/>
<text x="248.05" y="165.10" text-anchor="middle" font-size="11">Γ</text>
<text x="307.30" y="165.10" text-anchor="middle" font-size="11">M</text>
<text x="349.20" y="165.10" text-anchor="middle" font-size="11">X</text>
<rect x="349.20" y="4.00" width="143.05" height="142.50" fill="none" stroke="#000" stroke-width="1.2"/>
<line x1="349.20" y1="146.50" x2="349.20" y2="151.70" stroke="#000" stroke-width="1.2"/>
<line x1="391.10" y1="146.50" x2="391.10" y2="151.70" stroke="#000" stroke-width="1.2"/>
<line x1="450.35" y1="146.50" x2="450.35" y2="151.70" stroke="#000" stroke-width="1.2"/>
<line x1="492.25" y1="146.50" x2="492.25" y2="151.70" stroke="#000" stroke-width="1.2"/>
<text x="391.10" y="165.10" text-anchor="middle" font-size="11">Γ</text>
<text x="450.35" y="165.10" text-anchor="middle" font-size="11">M</text>
<text x="492.25" y="165.10" text-anchor="middle" font-size="11">X</text>
<rect x="492.25" y="4.00" width="143.05" height="142.50" fill="none" stroke="#000" stroke-width="1.2"/>
<line x1="492.25" y1="146.50" x2="492.25" y2="151.70" stroke="#000" stroke-width="1.2"/>
<line x1="534.15" y1="146.50" x2="534.15" y2="151.70" stroke="#000" stroke-width="1.2"/>
<line x1="593.40" y1="146.50" x2="593.40" y2="151.70" stroke="#000" stroke-width="1.2"/>
<line x1="635.30" y1="146.50" x2="635.30" y2="151.70" stroke="#000" stroke-width="1.2"/>
<text x="534.15" y="165.10" text-anchor="middle" font-size="11">Γ</text>
<text x="593.40" y="165.10" text-anchor="middle" font-size="11">M</text>
<text x="635.30" y="165.10" text-anchor="middle" font-size="11">X</text>
<line x1="58.10" y1="4.00" x2="63.10" y2="4.00" stroke="#000" stroke-width="1.2"/>
<text x="53.6" y="8.00" text-anchor="end" font-size="11" textLength="14.1" lengthAdjust="spacingAndGlyphs">20</text>
<line x1="58.10" y1="51.50" x2="63.10" y2="51.50" stroke="#000" stroke-width="1.2"/>
<text x="53.6" y="55.50" text-anchor="end" font-size="11" textLength="14.1" lengthAdjust="spacingAndGlyphs">10</text>
<line x1="58.10" y1="99.00" x2="63.10" y2="99.00" stroke="#000" stroke-width="1.2"/>
<text x="53.6" y="103.00" text-anchor="end" font-size="11" textLength="7.05" lengthAdjust="spacingAndGlyphs">0</text>
<line x1="58.10" y1="146.50" x2="63.10" y2="146.50" stroke="#000" stroke-width="1.2"/>
<text x="53.6" y="150.50" text-anchor="end" font-size="11" textLength="18.2" lengthAdjust="spacingAndGlyphs">-10</text>
<rect x="63.10" y="184.00" width="143.05" height="141.80" fill="none" stroke="#000" stroke-width="1.2"/>
<line x1="63.10" y1="325.80" x2="63.10" y2="331.00" stroke="#000" stroke-width="1.2"/>
<line x1="105.00" y1="325.80" x2="105.00" y2="331.00" stroke="#000" stroke-width="1.2"/>
<line x1="164.25" y1="325.80" x2="164.25" y2="331.00" stroke="#000" stroke-width="1.2"/>
<line x1="206.15" y1="325.80" x2="206.15" y2="331.00" stroke="#000" stroke-width="1.2"/>
<text x="63.10" y="344.40" text-anchor="middle" font-size="11">X</text>
<text x="105.00" y="344.40" text-anchor="middle" font-size="11">Γ</text>
<text x="164.25" y="344.40" text-anchor="middle" font-size="11">M</text>
<text x="206.15" y="344.40" text-anchor="middle" font-size="11">X</text>
<rect x="206.15" y="184.00" width="143.05" height="141.80" fill="none" stroke="#000" stroke-width="1.2"/>
<line x1="206.15" y1="325.80" x2="206.15" y2="331.00" stroke="#000" stroke-width="1.2"/>
<line x1="248.05" y1="325.80" x2="248.05" y2="331.00" stroke="#000" stroke-width="1.2"/>
<line x1="307.30" y1="325.80" x2="307.30" y2="331.00" stroke="#000" stroke-width="1.2"/>
<line x1="349.20" y1="325.80" x2="349.20" y2="331.00" stroke="#000" stroke-width="1.2"/>
<text x="248.05" y="344.40" text-anchor="middle" font-size="11">Γ</text>
<text x="307.30" y="344.40" text-anchor="middle" font-size="11">M</text>
<text x="349.20" y="344.40" text-anchor="middle" font-size="11">X</text>
<rect x="349.20" y="184.00" width="143.05" height="141.80" fill="none" stroke="#000" stroke-width="1.2"/>
<line x1="349.20" y1="325.80" x2="349.20" y2="331.00" stroke="#000" stroke-width="1.2"/>
<line x1="391.10" y1="325.80" x2="391.10" y2="331.00" stroke="#000" stroke-width="1.2"/>
<line x1="450.35" y1="325.80" x2="450.35" y2="331.00" stroke="#000" stroke-width="1.2"/>
<line x1="492.25" y1="325.80" x2="492.25" y2="331.00" stroke="#000" stroke-width="1.2"/>
<text x="391.10" y="344.40" text-anchor="middle" font-size="11">Γ</text>
<text x="450.35" y="344.40" text-anchor="middle" font-size="11">M</text>
<text x="492.25" y="344.40" text-anchor="middle" font-size="11">X</text>
<rect x="492.25" y="184.00" width="143.05" height="141.80" fill="none" stroke="#000" stroke-width="1.2"/>
<line x1="492.25" y1="325.80" x2="492.25" y2="331.00" stroke="#000" stroke-width="1.2"/>
<line x1="534.15" y1="325.80" x2="534.15" y2="331.00" stroke="#000" stroke-width="1.2"/>
<line x1="593.40" y1="325.80" x2="593.40" y2="331.00" stroke="#000" stroke-width="1.2"/>
<line x1="635.30" y1="325.80" x2="635.30" y2="331.00" stroke="#000" stroke-width="1.2"/>
<text x="534.15" y="344.40" text-anchor="middle" font-size="11">Γ</text>
<text x="593.40" y="344.40" text-anchor="middle" font-size="11">M</text>
<text x="635.30" y="344.40" text-anchor="middle" font-size="11">X</text>
<line x1="58.10" y1="184.00" x2="63.10" y2="184.00" stroke="#000" stroke-width="1.2"/>
<text x="53.6" y="188.00" text-anchor="end" font-size="11" textLength="7.05" lengthAdjust="spacingAndGlyphs">3</text>
<line x1="58.10" y1="231.27" x2="63.10" y2="231.27" stroke="#000" stroke-width="1.2"/>
<text x="53.6" y="235.27" text-anchor="end" font-size="11" textLength="7.05" lengthAdjust="spacingAndGlyphs">2</text>
<line x1="58.10" y1="278.53" x2="63.10" y2="278.53" stroke="#000" stroke-width="1.2"/>
<text x="53.6" y="282.53" text-anchor="end" font-size="11" textLength="7.05" lengthAdjust="spacingAndGlyphs">1</text>
<line x1="58.10" y1="325.80" x2="63.10" y2="325.80" stroke="#000" stroke-width="1.2"/>
<text x="53.6" y="329.80" text-anchor="end" font-size="11" textLength="7.05" lengthAdjust="spacingAndGlyphs">0</text>
<rect x="63.10" y="4.00" width="16.4" height="16.5" fill="#fff" stroke="#000" stroke-width="1.1"/>
<text x="71.00" y="17.30" text-anchor="middle" font-size="16" textLength="9.5" lengthAdjust="spacingAndGlyphs">a</text>
<rect x="206.15" y="4.00" width="16.4" height="16.5" fill="#fff" stroke="#000" stroke-width="1.1"/>
<text x="214.05" y="17.30" text-anchor="middle" font-size="16" textLength="9.8" lengthAdjust="spacingAndGlyphs">b</text>
<rect x="349.20" y="4.00" width="16.4" height="16.5" fill="#fff" stroke="#000" stroke-width="1.1"/>
<text x="357.10" y="17.30" text-anchor="middle" font-size="16" textLength="8.5" lengthAdjust="spacingAndGlyphs">c</text>
<rect x="492.25" y="4.00" width="16.4" height="16.5" fill="#fff" stroke="#000" stroke-width="1.1"/>
<text x="500.15" y="17.30" text-anchor="middle" font-size="16" textLength="9.8" lengthAdjust="spacingAndGlyphs">d</text>
<rect x="63.10" y="184.00" width="16.4" height="16.5" fill="#fff" stroke="#000" stroke-width="1.1"/>
<text x="71.00" y="197.30" text-anchor="middle" font-size="16" textLength="9.5" lengthAdjust="spacingAndGlyphs">e</text>
<rect x="206.15" y="184.00" width="16.4" height="16.5" fill="#fff" stroke="#000" stroke-width="1.1"/>
<text x="214.05" y="197.30" text-anchor="middle" font-size="16" textLength="5.5" lengthAdjust="spacingAndGlyphs">f</text>
<rect x="349.20" y="184.00" width="16.4" height="16.5" fill="#fff" stroke="#000" stroke-width="1.1"/>
<text x="357.10" y="197.30" text-anchor="middle" font-size="16" textLength="9.8" lengthAdjust="spacingAndGlyphs">g</text>
<rect x="492.25" y="184.00" width="16.4" height="16.5" fill="#fff" stroke="#000" stroke-width="1.1"/>
<text x="500.15" y="197.30" text-anchor="middle" font-size="16" textLength="9.8" lengthAdjust="spacingAndGlyphs">h</text>
<defs><linearGradient id="cb" x1="0" y1="0" x2="0" y2="1"><stop offset="0" stop-color="#000000"/><stop offset="0.06" stop-color="#0c0608"/><stop offset="0.147" stop-color="#2a1020"/><stop offset="0.288" stop-color="#5a1838"/><stop offset="0.393" stop-color="#9a1838"/><stop offset="0.498" stop-color="#c02828"/><stop offset="0.568" stop-color="#d85020"/><stop offset="0.617" stop-color="#e07028"/><stop offset="0.674" stop-color="#e08a40"/><stop offset="0.779" stop-color="#e4a868"/><stop offset="0.87" stop-color="#e8cc98"/><stop offset="0.94" stop-color="#f0e8cc"/><stop offset="1" stop-color="#f7f7f0"/></linearGradient></defs>
<rect x="643.5" y="4.00" width="7.2000000000000455" height="142.50" fill="url(#cb)" stroke="#000" stroke-width="1.0"/>
<line x1="650.7" y1="4.00" x2="655.2" y2="4.00" stroke="#000" stroke-width="1.2"/>
<line x1="650.7" y1="51.50" x2="655.2" y2="51.50" stroke="#000" stroke-width="1.2"/>
<line x1="650.7" y1="99.00" x2="655.2" y2="99.00" stroke="#000" stroke-width="1.2"/>
<line x1="650.7" y1="146.50" x2="655.2" y2="146.50" stroke="#000" stroke-width="1.2"/>
<text x="660.5" y="6.50" font-size="11" textLength="7.05" lengthAdjust="spacingAndGlyphs">1</text>
<text x="660.5" y="150.90" font-size="11" textLength="7.05" lengthAdjust="spacingAndGlyphs">0</text>
<text transform="translate(675.8,74.75) rotate(90)" text-anchor="middle" font-size="10.3" textLength="113.5" lengthAdjust="spacingAndGlyphs">weighed delocalization</text>
<text transform="translate(662.3,75.85) rotate(90)" text-anchor="middle" font-size="10.3" textLength="46" lengthAdjust="spacingAndGlyphs">[arb. unit]</text>
<rect x="643.5" y="184.00" width="7.2000000000000455" height="141.80" fill="url(#cb)" stroke="#000" stroke-width="1.0"/>
<line x1="650.7" y1="184.00" x2="655.2" y2="184.00" stroke="#000" stroke-width="1.2"/>
<line x1="650.7" y1="212.36" x2="655.2" y2="212.36" stroke="#000" stroke-width="1.2"/>
<line x1="650.7" y1="240.72" x2="655.2" y2="240.72" stroke="#000" stroke-width="1.2"/>
<line x1="650.7" y1="269.08" x2="655.2" y2="269.08" stroke="#000" stroke-width="1.2"/>
<line x1="650.7" y1="297.44" x2="655.2" y2="297.44" stroke="#000" stroke-width="1.2"/>
<line x1="650.7" y1="325.80" x2="655.2" y2="325.80" stroke="#000" stroke-width="1.2"/>
<text x="660.5" y="186.50" font-size="11" textLength="7.05" lengthAdjust="spacingAndGlyphs">1</text>
<text x="660.5" y="330.20" font-size="11" textLength="7.05" lengthAdjust="spacingAndGlyphs">0</text>
<text transform="translate(676.8,250.90) rotate(90)" text-anchor="middle" font-size="10.3" textLength="113.5" lengthAdjust="spacingAndGlyphs">weighed delocalization</text>
<text transform="translate(662.3,251.30) rotate(90)" text-anchor="middle" font-size="10.3" textLength="46" lengthAdjust="spacingAndGlyphs">[arb. unit]</text>
<text transform="translate(10.1,77.15) rotate(-90)" text-anchor="middle" font-size="14" textLength="142.5" lengthAdjust="spacingAndGlyphs">Electron Delocalization</text>
<text transform="translate(31.2,75.55) rotate(-90)" text-anchor="middle" font-size="10" textLength="68" lengthAdjust="spacingAndGlyphs">E [arb. unit]</text>
<text transform="translate(10.1,257.20) rotate(-90)" text-anchor="middle" font-size="14" textLength="139.5" lengthAdjust="spacingAndGlyphs">Phonon Delocalization</text>
<text transform="translate(38.3,255.20) rotate(-90)" text-anchor="middle" font-size="10" textLength="68" lengthAdjust="spacingAndGlyphs">E [arb. unit]</text>
</svg>
</body></html>
